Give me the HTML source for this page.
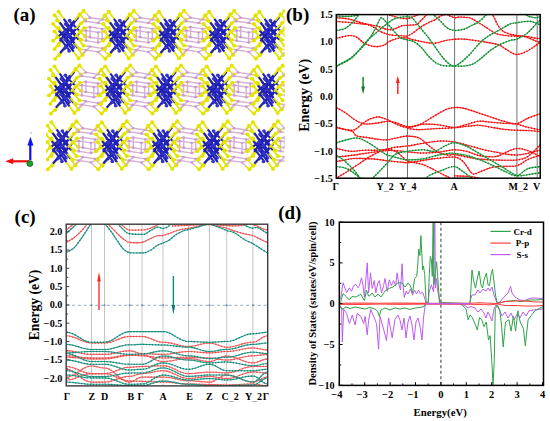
<!DOCTYPE html>
<html><head><meta charset="utf-8"><style>
html,body{margin:0;padding:0;background:#fff;width:550px;height:421px;overflow:hidden}
svg{display:block}
</style></head><body>
<svg width="550" height="421" viewBox="0 0 550 421">
<rect width="550" height="421" fill="#fff"/>
<defs>
<clipPath id="cb"><rect x="336.3" y="14.6" width="203.9" height="163.6"/></clipPath>
<clipPath id="cc"><rect x="66.2" y="224.2" width="201.5" height="161.7"/></clipPath>
<clipPath id="cd"><rect x="339.3" y="222.2" width="204.2" height="163.2"/></clipPath>
<g id="u"><g transform="scale(1,0.93)">
<path fill="none" stroke="#d8b0d8" stroke-width="1.5" d="M15.8,-20.8 L19.0,-17.0 M16.5,-16.0 L19.0,-17.0 M16.0,-6.5 L19.0,-7.0 M16.5,3.5 L19.0,4.0 M15.8,13.5 L19.0,14.0 M15.2,18.5 L19.0,14.0 M34.4,-19.2 L31.0,-15.0 M33.6,-14.5 L31.0,-15.0 M34.4,-5.5 L31.0,-5.0 M33.6,5.0 L31.0,6.0 M34.4,14.5 L31.0,16.0 M34.6,19.8 L31.0,16.0 M19.0,-17.0 L31.0,-15.0 M19.0,-7.0 L31.0,-5.0 M19.0,4.0 L31.0,6.0 M19.0,14.0 L31.0,16.0 M19,-7 L19,4 M31,-5 L31,6"/>
<path fill="none" stroke="#e4e400" stroke-width="1.6" d="M12.5,-24.5 L15.8,-20.8 M14.0,-15.0 L16.5,-16.0 M13.0,-6.0 L16.0,-6.5 M14.0,3.0 L16.5,3.5 M12.5,13.0 L15.8,13.5 M11.5,23.0 L15.2,18.5 M37.8,-23.5 L34.4,-19.2 M36.3,-14.0 L33.6,-14.5 M37.8,-6.0 L34.4,-5.5 M36.3,4.0 L33.6,5.0 M37.8,13.0 L34.4,14.5 M38.3,23.5 L34.6,19.8"/>
<path fill="none" stroke="#e4e400" stroke-width="1.9" d="M-12.5,-23.5 L-7.3,-15.8 M-14.0,-14.0 L-8.2,-6.8 M-12.5,-6.0 L-7.3,1.2 M-14.0,4.0 L-8.2,-1.0 M-12.5,13.0 L-7.3,4.7 M-12.0,23.5 L-7.0,17.2 M12.5,-24.5 L7.3,-17.5 M14.0,-15.0 L8.2,-8.5 M13.0,-6.0 L7.8,0.1 M14.0,3.0 L8.4,-2.8 M12.5,13.0 L7.3,6.5 M11.5,23.0 L6.6,15.8"/>
<path fill="none" stroke="#2020b4" stroke-width="2.2" d="M-7.3,-15.8 L2.0,-2.0 M-8.2,-6.8 L2.0,6.0 M-7.3,1.2 L2.0,14.0 M-8.2,-1.0 L2.0,-10.0 M-7.3,4.7 L2.0,-10.0 M-7.0,17.2 L2.0,6.0 M7.3,-17.5 L-2.0,-5.0 M8.2,-8.5 L-2.0,3.0 M7.8,0.1 L-1.5,11.0 M8.4,-2.8 L-1.5,-13.0 M7.3,6.5 L-2.0,-5.0 M6.6,15.8 L-2.0,3.0"/>
<circle cx="-1.5" cy="-14.0" r="1.9" fill="#3434c8"/>
<circle cx="2.0" cy="-10.5" r="1.9" fill="#3434c8"/>
<circle cx="-2.0" cy="-5.5" r="1.9" fill="#3434c8"/>
<circle cx="2.0" cy="-2.0" r="1.9" fill="#3434c8"/>
<circle cx="-2.0" cy="3.0" r="1.9" fill="#3434c8"/>
<circle cx="2.0" cy="6.5" r="1.9" fill="#3434c8"/>
<circle cx="-1.5" cy="11.0" r="1.9" fill="#3434c8"/>
<circle cx="2.0" cy="15.0" r="1.9" fill="#3434c8"/>
<circle cx="-12.5" cy="-23.5" r="2" fill="#e4e400"/>
<circle cx="-14.0" cy="-14.0" r="2" fill="#e4e400"/>
<circle cx="-12.5" cy="-6.0" r="2" fill="#e4e400"/>
<circle cx="-14.0" cy="4.0" r="2" fill="#e4e400"/>
<circle cx="-12.5" cy="13.0" r="2" fill="#e4e400"/>
<circle cx="-12.0" cy="23.5" r="2" fill="#e4e400"/>
<circle cx="12.5" cy="-24.5" r="2" fill="#e4e400"/>
<circle cx="14.0" cy="-15.0" r="2" fill="#e4e400"/>
<circle cx="13.0" cy="-6.0" r="2" fill="#e4e400"/>
<circle cx="14.0" cy="3.0" r="2" fill="#e4e400"/>
<circle cx="12.5" cy="13.0" r="2" fill="#e4e400"/>
<circle cx="11.5" cy="23.0" r="2" fill="#e4e400"/>
<circle cx="19.0" cy="-17.0" r="1.3" fill="#c898c8"/>
<circle cx="19.0" cy="-7.0" r="1.3" fill="#c898c8"/>
<circle cx="19.0" cy="4.0" r="1.3" fill="#c898c8"/>
<circle cx="19.0" cy="14.0" r="1.3" fill="#c898c8"/>
<circle cx="31.0" cy="-15.0" r="1.3" fill="#c898c8"/>
<circle cx="31.0" cy="-5.0" r="1.3" fill="#c898c8"/>
<circle cx="31.0" cy="6.0" r="1.3" fill="#c898c8"/>
<circle cx="31.0" cy="16.0" r="1.3" fill="#c898c8"/>
</g></g>
</defs>
<g clip-path="url(#ca)">
<use href="#u" x="71.1" y="33.5"/>
<use href="#u" x="67.1" y="37.0"/>
<use href="#u" x="121.3" y="33.5"/>
<use href="#u" x="117.3" y="37.0"/>
<use href="#u" x="171.5" y="33.5"/>
<use href="#u" x="167.5" y="37.0"/>
<use href="#u" x="221.7" y="33.5"/>
<use href="#u" x="217.7" y="37.0"/>
<use href="#u" x="271.9" y="33.5"/>
<use href="#u" x="267.9" y="37.0"/>
<use href="#u" x="66.9" y="88.2"/>
<use href="#u" x="62.9" y="91.7"/>
<use href="#u" x="117.7" y="88.2"/>
<use href="#u" x="113.7" y="91.7"/>
<use href="#u" x="168.5" y="88.2"/>
<use href="#u" x="164.5" y="91.7"/>
<use href="#u" x="219.3" y="88.2"/>
<use href="#u" x="215.3" y="91.7"/>
<use href="#u" x="270.1" y="88.2"/>
<use href="#u" x="266.1" y="91.7"/>
<use href="#u" x="63.9" y="144.0"/>
<use href="#u" x="59.9" y="147.5"/>
<use href="#u" x="114.3" y="144.0"/>
<use href="#u" x="110.3" y="147.5"/>
<use href="#u" x="164.7" y="144.0"/>
<use href="#u" x="160.7" y="147.5"/>
<use href="#u" x="215.1" y="144.0"/>
<use href="#u" x="211.1" y="147.5"/>
<use href="#u" x="265.5" y="144.0"/>
<use href="#u" x="261.5" y="147.5"/>
</g>
<clipPath id="ca"><rect x="46" y="0" width="238.5" height="200"/></clipPath>
<line x1="30.3" y1="160" x2="30.3" y2="144" stroke="#1010ee" stroke-width="2.2"/><path d="M27.4,145.5 L33.4,145.5 L30.4,136.8 Z" fill="#1010ee"/>
<line x1="29" y1="161.3" x2="12" y2="161.3" stroke="#ee1010" stroke-width="2.2"/><path d="M13.2,158.3 L13.2,164.3 L5.2,161.2 Z" fill="#ee1010"/>
<circle cx="29.8" cy="163.6" r="3" fill="#18a030" stroke="#0a4010" stroke-width="0.6"/>
<text x="30.2" y="134" font-size="4" fill="#777" font-family="Liberation Sans">c</text>
<line x1="387.5" y1="14.6" x2="387.5" y2="178.2" stroke="#707070" stroke-width="1"/>
<line x1="407.5" y1="14.6" x2="407.5" y2="178.2" stroke="#707070" stroke-width="1"/>
<line x1="454.6" y1="14.6" x2="454.6" y2="178.2" stroke="#707070" stroke-width="1"/>
<line x1="516.9" y1="14.6" x2="516.9" y2="178.2" stroke="#707070" stroke-width="1"/>
<line x1="537.2" y1="14.6" x2="537.2" y2="178.2" stroke="#707070" stroke-width="1"/>
<g clip-path="url(#cb)" fill="none"><g stroke="#ff3838" stroke-width="1.1"><path d="M336.5,38.4 C338.6,37.9 346.0,35.7 349.3,35.5 C352.6,35.3 354.0,35.8 356.4,37.0 C358.8,38.2 361.1,41.2 363.5,42.7 C365.9,44.2 368.2,45.1 370.6,45.8 C373.0,46.4 375.4,46.8 377.8,46.6 C380.2,46.4 383.3,45.5 384.9,44.8 C386.5,44.1 386.1,43.3 387.6,42.4 C389.1,41.5 391.7,40.4 393.8,39.6 C395.9,38.8 398.1,38.0 400.4,37.7 C402.7,37.5 405.3,37.8 407.4,38.1 C409.5,38.4 410.5,39.0 412.8,39.6 C415.1,40.2 418.8,41.0 421.4,41.5 C424.0,42.0 426.1,42.6 428.5,42.9 C430.9,43.2 433.2,43.4 435.6,43.1 C438.0,42.8 440.4,41.8 442.8,41.2 C445.2,40.7 447.5,40.1 449.9,39.8 C452.3,39.4 454.6,39.2 457.0,39.1 C459.4,39.0 462.0,39.0 464.2,39.1 C466.4,39.2 466.6,39.3 470.0,39.8 C473.4,40.3 479.6,41.1 484.3,41.9 C489.1,42.7 494.9,43.6 498.5,44.8 C502.1,46.0 503.2,47.7 505.6,49.1 C508.0,50.5 510.9,52.4 512.8,53.3 C514.7,54.2 514.9,54.6 516.8,54.5 C518.7,54.4 521.6,53.8 524.2,52.6 C526.9,51.5 529.9,49.5 532.7,47.6 C535.5,45.8 539.6,42.5 541.0,41.5"/><path d="M336.5,17.7 C338.6,17.9 344.8,18.2 349.3,19.1 C353.8,20.1 358.8,22.2 363.5,23.4 C368.2,24.6 373.6,25.3 377.6,26.3 C381.6,27.3 384.9,29.1 387.6,29.6 C390.3,30.1 391.7,29.7 393.8,29.1 C395.9,28.6 398.7,26.9 400.4,26.3 C402.1,25.7 402.2,25.7 404.0,25.5 C405.8,25.3 409.1,25.3 411.3,25.1 C413.5,24.9 415.5,25.0 417.1,24.2 C418.7,23.4 419.6,21.9 421.0,20.5 C422.4,19.1 424.6,16.9 425.8,15.6 C427.0,14.3 427.6,13.0 428.0,12.5"/><path d="M336.5,21.5 C338.8,21.7 345.8,22.1 350.0,22.5 C354.2,22.9 358.7,23.5 362.0,24.0 C365.3,24.5 367.1,24.1 370.0,25.3 C372.9,26.5 376.6,29.5 379.5,31.0 C382.4,32.5 385.2,33.6 387.6,34.3 C390.0,35.0 391.4,35.0 393.8,35.3 C396.2,35.5 399.7,35.7 402.0,35.8 C404.3,35.9 405.8,36.5 407.6,36.0 C409.4,35.5 410.4,34.7 412.7,33.1 C415.0,31.5 418.9,28.2 421.5,26.5 C424.1,24.8 425.8,24.0 428.0,22.9 C430.2,21.8 432.2,21.2 434.5,20.0 C436.8,18.8 439.7,16.5 441.8,15.6 C443.9,14.7 445.6,14.4 447.0,14.5 C448.4,14.6 448.7,15.5 450.0,16.0 C451.3,16.5 452.9,17.5 454.6,17.7 C456.3,17.9 458.1,17.0 460.0,17.0 C461.9,17.0 464.1,17.3 466.0,17.5 C467.9,17.7 468.2,16.9 471.3,18.4 C474.4,19.9 480.2,23.8 484.3,26.3 C488.4,28.8 492.1,31.9 495.7,33.4 C499.2,34.9 502.1,35.0 505.6,35.5 C509.1,36.0 513.2,36.0 516.8,36.2 C520.4,36.4 523.7,36.1 527.0,36.5 C530.3,36.9 534.4,38.1 536.7,38.4 C539.0,38.7 540.3,38.5 541.0,38.5"/><path d="M389.0,14.9 C390.6,15.4 395.4,17.1 398.5,17.7 C401.6,18.3 405.0,18.8 407.4,18.7 C409.8,18.6 411.1,17.4 412.8,16.8 C414.5,16.2 416.1,15.7 417.5,14.9 C418.9,14.1 420.4,12.5 421.0,12.0"/><path d="M490.0,11.0 C490.5,11.7 491.4,12.3 492.8,14.9 C494.2,17.4 496.6,23.4 498.5,26.3 C500.4,29.2 501.8,30.6 504.2,32.0 C506.6,33.4 510.7,34.2 512.8,34.8 C514.9,35.4 514.6,35.1 516.8,35.5 C519.0,35.9 522.7,36.0 526.0,37.0 C529.3,38.0 534.2,40.4 536.7,41.2 C539.2,42.0 540.3,41.9 541.0,42.0"/><path d="M336.5,107.6 C338.1,108.5 342.9,111.1 345.9,113.1 C348.9,115.1 351.9,117.9 354.6,119.6 C357.3,121.3 360.1,122.8 362.3,123.5 C364.5,124.2 365.0,124.1 367.7,124.0 C370.4,123.9 375.3,123.4 378.6,122.9 C381.9,122.5 384.4,121.3 387.4,121.3 C390.4,121.3 393.1,121.9 396.4,122.8 C399.7,123.7 403.6,126.3 407.4,126.6 C411.2,126.9 415.0,126.3 419.2,124.7 C423.4,123.1 428.1,119.6 432.5,117.1 C436.9,114.6 442.2,111.1 445.8,109.5 C449.4,107.9 451.9,107.9 454.3,107.6 C456.7,107.3 457.9,107.3 460.0,107.6 C462.1,107.8 463.9,108.2 467.1,109.1 C470.3,110.0 475.2,111.8 479.2,113.2 C483.2,114.6 487.2,115.9 491.3,117.2 C495.4,118.5 499.3,120.1 503.5,121.2 C507.7,122.3 512.6,124.2 516.6,123.7 C520.6,123.2 523.6,119.9 527.7,118.2 C531.8,116.5 538.8,114.3 541.0,113.5"/><path d="M336.5,127.3 C338.1,127.7 343.2,129.0 345.9,129.5 C348.6,130.0 350.7,130.5 352.5,130.3 C354.3,130.1 355.0,129.6 356.8,128.4 C358.6,127.2 361.2,124.5 363.4,122.9 C365.6,121.4 367.5,120.1 369.9,119.1 C372.2,118.1 375.3,117.1 377.5,116.9 C379.7,116.7 381.4,117.5 383.0,118.0 C384.6,118.5 385.4,118.7 387.4,119.6 C389.4,120.5 391.7,122.2 395.0,123.5 C398.3,124.8 402.7,127.4 407.4,127.5 C412.1,127.6 417.9,124.8 423.0,124.3 C428.1,123.8 433.0,124.2 438.2,124.7 C443.4,125.2 449.5,127.6 454.3,127.5 C459.1,127.4 463.0,125.3 467.1,124.3 C471.2,123.2 475.2,121.5 479.2,121.2 C483.2,120.9 487.2,122.0 491.3,122.3 C495.4,122.6 499.3,123.0 503.5,123.3 C507.7,123.6 512.6,123.3 516.6,124.0 C520.6,124.7 523.6,126.3 527.7,127.3 C531.8,128.3 538.8,129.6 541.0,130.0"/><path d="M336.5,127.6 C338.1,128.0 343.2,129.2 345.9,129.8 C348.6,130.5 350.7,130.5 352.5,131.5 C354.3,132.5 354.3,135.0 356.8,136.0 C359.3,137.0 364.1,137.0 367.7,137.6 C371.3,138.2 375.3,138.9 378.6,139.3 C381.9,139.7 384.4,140.0 387.4,139.8 C390.4,139.6 393.1,138.6 396.4,138.0 C399.7,137.4 403.6,136.1 407.4,136.1 C411.2,136.1 415.6,136.4 419.2,138.0 C422.8,139.6 425.5,143.2 428.7,145.6 C431.9,148.0 435.0,150.6 438.2,152.2 C441.4,153.8 444.9,154.7 447.7,155.1 C450.5,155.5 450.4,154.0 455.0,154.6 C459.6,155.2 468.5,157.7 475.2,158.6 C481.9,159.5 488.5,159.8 495.4,160.0 C502.3,160.2 511.2,160.6 516.6,160.0 C522.0,159.4 523.6,159.3 527.7,156.6 C531.8,153.9 538.8,146.1 541.0,144.0"/><path d="M336.5,148.4 C338.8,148.9 345.7,151.0 350.2,151.3 C354.7,151.6 359.1,150.5 363.5,150.3 C367.9,150.1 372.8,150.5 376.8,150.3 C380.8,150.2 384.2,149.1 387.6,149.4 C391.0,149.7 393.7,150.1 397.0,152.0 C400.3,153.9 403.1,158.7 407.4,160.8 C411.7,162.9 417.2,162.4 423.0,164.6 C428.8,166.8 437.6,171.8 442.0,174.0 C446.4,176.2 447.9,176.6 449.6,177.8 C451.3,179.0 451.6,180.5 452.0,181.0"/><path d="M336.5,157.0 C339.4,156.7 347.9,155.9 354.0,155.1 C360.1,154.3 367.4,153.0 373.0,152.2 C378.6,151.4 383.1,150.7 387.6,150.5 C392.1,150.3 394.6,150.6 400.0,151.0 C405.4,151.4 413.3,152.8 420.0,153.0 C426.7,153.2 434.3,152.6 440.0,152.0 C445.7,151.4 449.8,149.8 454.3,149.7 C458.8,149.6 463.0,150.5 467.1,151.5 C471.2,152.5 474.5,154.8 479.2,155.6 C483.9,156.4 491.0,157.1 495.4,156.6 C499.8,156.1 502.0,153.8 505.5,152.5 C509.0,151.2 512.9,148.8 516.6,148.5 C520.3,148.2 523.6,149.1 527.7,150.5 C531.8,151.9 538.8,155.9 541.0,157.0"/><path d="M334.0,181.0 C334.5,180.5 334.8,179.3 336.9,177.8 C339.0,176.3 342.9,174.3 346.4,172.1 C349.9,169.9 354.0,167.1 357.8,164.6 C361.6,162.1 365.4,159.2 369.2,157.0 C373.0,154.8 377.5,152.6 380.6,151.3 C383.7,150.0 384.9,149.7 387.6,149.0 C390.3,148.3 393.7,147.5 397.0,147.0 C400.3,146.5 402.7,146.7 407.4,146.0 C412.1,145.3 419.6,143.8 425.0,143.0 C430.4,142.2 435.1,141.2 440.0,141.0 C444.9,140.8 449.3,141.2 454.3,142.0 C459.3,142.8 464.1,144.5 470.0,146.0 C475.9,147.5 482.2,149.5 490.0,151.0 C497.8,152.5 508.1,155.2 516.6,155.0 C525.1,154.8 536.9,150.8 541.0,150.0"/><path d="M336.5,161.5 C337.9,161.2 342.1,160.5 345.0,160.0 C347.9,159.5 349.3,158.7 354.0,158.5 C358.7,158.3 367.4,158.5 373.0,158.9 C378.6,159.3 383.5,160.3 387.6,160.8 C391.7,161.3 394.4,161.4 397.7,161.7 C401.0,162.0 403.8,162.8 407.5,162.7 C411.2,162.6 415.8,161.6 420.0,161.0 C424.2,160.4 426.8,159.6 432.5,158.9 C438.2,158.2 449.2,156.6 454.3,157.0 C459.4,157.4 460.3,159.0 463.1,161.6 C465.9,164.2 469.2,170.7 471.2,172.7 C473.2,174.7 472.8,174.2 475.2,173.7 C477.6,173.2 481.9,170.9 485.3,169.7 C488.7,168.5 490.2,167.4 495.4,166.7 C500.6,166.0 511.2,166.9 516.6,165.7 C522.0,164.5 523.6,161.4 527.7,159.6 C531.8,157.8 538.8,155.8 541.0,155.0"/><path d="M454.0,175.8 C456.7,175.9 465.7,176.1 470.0,176.5 C474.3,176.9 478.3,178.2 480.0,178.5"/><path d="M407.4,128.5 C408.7,128.7 412.4,129.3 415.0,129.5 C417.6,129.7 419.1,129.7 423.0,129.5 C426.9,129.3 433.0,128.8 438.2,128.5 C443.4,128.2 449.5,128.2 454.3,127.8 C459.1,127.4 463.0,126.7 467.1,126.3 C471.2,125.9 475.2,125.1 479.2,125.3 C483.2,125.5 487.2,126.6 491.3,127.3 C495.4,128.0 499.3,128.8 503.5,129.3 C507.7,129.8 512.6,130.1 516.6,130.3 C520.6,130.5 523.6,130.3 527.7,130.5 C531.8,130.7 538.8,131.5 541.0,131.7"/></g><g stroke="#e80000" stroke-width="1.5" stroke-dasharray="1 1.9"><path d="M336.5,38.4 C338.6,37.9 346.0,35.7 349.3,35.5 C352.6,35.3 354.0,35.8 356.4,37.0 C358.8,38.2 361.1,41.2 363.5,42.7 C365.9,44.2 368.2,45.1 370.6,45.8 C373.0,46.4 375.4,46.8 377.8,46.6 C380.2,46.4 383.3,45.5 384.9,44.8 C386.5,44.1 386.1,43.3 387.6,42.4 C389.1,41.5 391.7,40.4 393.8,39.6 C395.9,38.8 398.1,38.0 400.4,37.7 C402.7,37.5 405.3,37.8 407.4,38.1 C409.5,38.4 410.5,39.0 412.8,39.6 C415.1,40.2 418.8,41.0 421.4,41.5 C424.0,42.0 426.1,42.6 428.5,42.9 C430.9,43.2 433.2,43.4 435.6,43.1 C438.0,42.8 440.4,41.8 442.8,41.2 C445.2,40.7 447.5,40.1 449.9,39.8 C452.3,39.4 454.6,39.2 457.0,39.1 C459.4,39.0 462.0,39.0 464.2,39.1 C466.4,39.2 466.6,39.3 470.0,39.8 C473.4,40.3 479.6,41.1 484.3,41.9 C489.1,42.7 494.9,43.6 498.5,44.8 C502.1,46.0 503.2,47.7 505.6,49.1 C508.0,50.5 510.9,52.4 512.8,53.3 C514.7,54.2 514.9,54.6 516.8,54.5 C518.7,54.4 521.6,53.8 524.2,52.6 C526.9,51.5 529.9,49.5 532.7,47.6 C535.5,45.8 539.6,42.5 541.0,41.5"/><path d="M336.5,17.7 C338.6,17.9 344.8,18.2 349.3,19.1 C353.8,20.1 358.8,22.2 363.5,23.4 C368.2,24.6 373.6,25.3 377.6,26.3 C381.6,27.3 384.9,29.1 387.6,29.6 C390.3,30.1 391.7,29.7 393.8,29.1 C395.9,28.6 398.7,26.9 400.4,26.3 C402.1,25.7 402.2,25.7 404.0,25.5 C405.8,25.3 409.1,25.3 411.3,25.1 C413.5,24.9 415.5,25.0 417.1,24.2 C418.7,23.4 419.6,21.9 421.0,20.5 C422.4,19.1 424.6,16.9 425.8,15.6 C427.0,14.3 427.6,13.0 428.0,12.5"/><path d="M336.5,21.5 C338.8,21.7 345.8,22.1 350.0,22.5 C354.2,22.9 358.7,23.5 362.0,24.0 C365.3,24.5 367.1,24.1 370.0,25.3 C372.9,26.5 376.6,29.5 379.5,31.0 C382.4,32.5 385.2,33.6 387.6,34.3 C390.0,35.0 391.4,35.0 393.8,35.3 C396.2,35.5 399.7,35.7 402.0,35.8 C404.3,35.9 405.8,36.5 407.6,36.0 C409.4,35.5 410.4,34.7 412.7,33.1 C415.0,31.5 418.9,28.2 421.5,26.5 C424.1,24.8 425.8,24.0 428.0,22.9 C430.2,21.8 432.2,21.2 434.5,20.0 C436.8,18.8 439.7,16.5 441.8,15.6 C443.9,14.7 445.6,14.4 447.0,14.5 C448.4,14.6 448.7,15.5 450.0,16.0 C451.3,16.5 452.9,17.5 454.6,17.7 C456.3,17.9 458.1,17.0 460.0,17.0 C461.9,17.0 464.1,17.3 466.0,17.5 C467.9,17.7 468.2,16.9 471.3,18.4 C474.4,19.9 480.2,23.8 484.3,26.3 C488.4,28.8 492.1,31.9 495.7,33.4 C499.2,34.9 502.1,35.0 505.6,35.5 C509.1,36.0 513.2,36.0 516.8,36.2 C520.4,36.4 523.7,36.1 527.0,36.5 C530.3,36.9 534.4,38.1 536.7,38.4 C539.0,38.7 540.3,38.5 541.0,38.5"/><path d="M389.0,14.9 C390.6,15.4 395.4,17.1 398.5,17.7 C401.6,18.3 405.0,18.8 407.4,18.7 C409.8,18.6 411.1,17.4 412.8,16.8 C414.5,16.2 416.1,15.7 417.5,14.9 C418.9,14.1 420.4,12.5 421.0,12.0"/><path d="M490.0,11.0 C490.5,11.7 491.4,12.3 492.8,14.9 C494.2,17.4 496.6,23.4 498.5,26.3 C500.4,29.2 501.8,30.6 504.2,32.0 C506.6,33.4 510.7,34.2 512.8,34.8 C514.9,35.4 514.6,35.1 516.8,35.5 C519.0,35.9 522.7,36.0 526.0,37.0 C529.3,38.0 534.2,40.4 536.7,41.2 C539.2,42.0 540.3,41.9 541.0,42.0"/><path d="M336.5,107.6 C338.1,108.5 342.9,111.1 345.9,113.1 C348.9,115.1 351.9,117.9 354.6,119.6 C357.3,121.3 360.1,122.8 362.3,123.5 C364.5,124.2 365.0,124.1 367.7,124.0 C370.4,123.9 375.3,123.4 378.6,122.9 C381.9,122.5 384.4,121.3 387.4,121.3 C390.4,121.3 393.1,121.9 396.4,122.8 C399.7,123.7 403.6,126.3 407.4,126.6 C411.2,126.9 415.0,126.3 419.2,124.7 C423.4,123.1 428.1,119.6 432.5,117.1 C436.9,114.6 442.2,111.1 445.8,109.5 C449.4,107.9 451.9,107.9 454.3,107.6 C456.7,107.3 457.9,107.3 460.0,107.6 C462.1,107.8 463.9,108.2 467.1,109.1 C470.3,110.0 475.2,111.8 479.2,113.2 C483.2,114.6 487.2,115.9 491.3,117.2 C495.4,118.5 499.3,120.1 503.5,121.2 C507.7,122.3 512.6,124.2 516.6,123.7 C520.6,123.2 523.6,119.9 527.7,118.2 C531.8,116.5 538.8,114.3 541.0,113.5"/><path d="M336.5,127.3 C338.1,127.7 343.2,129.0 345.9,129.5 C348.6,130.0 350.7,130.5 352.5,130.3 C354.3,130.1 355.0,129.6 356.8,128.4 C358.6,127.2 361.2,124.5 363.4,122.9 C365.6,121.4 367.5,120.1 369.9,119.1 C372.2,118.1 375.3,117.1 377.5,116.9 C379.7,116.7 381.4,117.5 383.0,118.0 C384.6,118.5 385.4,118.7 387.4,119.6 C389.4,120.5 391.7,122.2 395.0,123.5 C398.3,124.8 402.7,127.4 407.4,127.5 C412.1,127.6 417.9,124.8 423.0,124.3 C428.1,123.8 433.0,124.2 438.2,124.7 C443.4,125.2 449.5,127.6 454.3,127.5 C459.1,127.4 463.0,125.3 467.1,124.3 C471.2,123.2 475.2,121.5 479.2,121.2 C483.2,120.9 487.2,122.0 491.3,122.3 C495.4,122.6 499.3,123.0 503.5,123.3 C507.7,123.6 512.6,123.3 516.6,124.0 C520.6,124.7 523.6,126.3 527.7,127.3 C531.8,128.3 538.8,129.6 541.0,130.0"/><path d="M336.5,127.6 C338.1,128.0 343.2,129.2 345.9,129.8 C348.6,130.5 350.7,130.5 352.5,131.5 C354.3,132.5 354.3,135.0 356.8,136.0 C359.3,137.0 364.1,137.0 367.7,137.6 C371.3,138.2 375.3,138.9 378.6,139.3 C381.9,139.7 384.4,140.0 387.4,139.8 C390.4,139.6 393.1,138.6 396.4,138.0 C399.7,137.4 403.6,136.1 407.4,136.1 C411.2,136.1 415.6,136.4 419.2,138.0 C422.8,139.6 425.5,143.2 428.7,145.6 C431.9,148.0 435.0,150.6 438.2,152.2 C441.4,153.8 444.9,154.7 447.7,155.1 C450.5,155.5 450.4,154.0 455.0,154.6 C459.6,155.2 468.5,157.7 475.2,158.6 C481.9,159.5 488.5,159.8 495.4,160.0 C502.3,160.2 511.2,160.6 516.6,160.0 C522.0,159.4 523.6,159.3 527.7,156.6 C531.8,153.9 538.8,146.1 541.0,144.0"/><path d="M336.5,148.4 C338.8,148.9 345.7,151.0 350.2,151.3 C354.7,151.6 359.1,150.5 363.5,150.3 C367.9,150.1 372.8,150.5 376.8,150.3 C380.8,150.2 384.2,149.1 387.6,149.4 C391.0,149.7 393.7,150.1 397.0,152.0 C400.3,153.9 403.1,158.7 407.4,160.8 C411.7,162.9 417.2,162.4 423.0,164.6 C428.8,166.8 437.6,171.8 442.0,174.0 C446.4,176.2 447.9,176.6 449.6,177.8 C451.3,179.0 451.6,180.5 452.0,181.0"/><path d="M336.5,157.0 C339.4,156.7 347.9,155.9 354.0,155.1 C360.1,154.3 367.4,153.0 373.0,152.2 C378.6,151.4 383.1,150.7 387.6,150.5 C392.1,150.3 394.6,150.6 400.0,151.0 C405.4,151.4 413.3,152.8 420.0,153.0 C426.7,153.2 434.3,152.6 440.0,152.0 C445.7,151.4 449.8,149.8 454.3,149.7 C458.8,149.6 463.0,150.5 467.1,151.5 C471.2,152.5 474.5,154.8 479.2,155.6 C483.9,156.4 491.0,157.1 495.4,156.6 C499.8,156.1 502.0,153.8 505.5,152.5 C509.0,151.2 512.9,148.8 516.6,148.5 C520.3,148.2 523.6,149.1 527.7,150.5 C531.8,151.9 538.8,155.9 541.0,157.0"/><path d="M334.0,181.0 C334.5,180.5 334.8,179.3 336.9,177.8 C339.0,176.3 342.9,174.3 346.4,172.1 C349.9,169.9 354.0,167.1 357.8,164.6 C361.6,162.1 365.4,159.2 369.2,157.0 C373.0,154.8 377.5,152.6 380.6,151.3 C383.7,150.0 384.9,149.7 387.6,149.0 C390.3,148.3 393.7,147.5 397.0,147.0 C400.3,146.5 402.7,146.7 407.4,146.0 C412.1,145.3 419.6,143.8 425.0,143.0 C430.4,142.2 435.1,141.2 440.0,141.0 C444.9,140.8 449.3,141.2 454.3,142.0 C459.3,142.8 464.1,144.5 470.0,146.0 C475.9,147.5 482.2,149.5 490.0,151.0 C497.8,152.5 508.1,155.2 516.6,155.0 C525.1,154.8 536.9,150.8 541.0,150.0"/><path d="M336.5,161.5 C337.9,161.2 342.1,160.5 345.0,160.0 C347.9,159.5 349.3,158.7 354.0,158.5 C358.7,158.3 367.4,158.5 373.0,158.9 C378.6,159.3 383.5,160.3 387.6,160.8 C391.7,161.3 394.4,161.4 397.7,161.7 C401.0,162.0 403.8,162.8 407.5,162.7 C411.2,162.6 415.8,161.6 420.0,161.0 C424.2,160.4 426.8,159.6 432.5,158.9 C438.2,158.2 449.2,156.6 454.3,157.0 C459.4,157.4 460.3,159.0 463.1,161.6 C465.9,164.2 469.2,170.7 471.2,172.7 C473.2,174.7 472.8,174.2 475.2,173.7 C477.6,173.2 481.9,170.9 485.3,169.7 C488.7,168.5 490.2,167.4 495.4,166.7 C500.6,166.0 511.2,166.9 516.6,165.7 C522.0,164.5 523.6,161.4 527.7,159.6 C531.8,157.8 538.8,155.8 541.0,155.0"/><path d="M454.0,175.8 C456.7,175.9 465.7,176.1 470.0,176.5 C474.3,176.9 478.3,178.2 480.0,178.5"/><path d="M407.4,128.5 C408.7,128.7 412.4,129.3 415.0,129.5 C417.6,129.7 419.1,129.7 423.0,129.5 C426.9,129.3 433.0,128.8 438.2,128.5 C443.4,128.2 449.5,128.2 454.3,127.8 C459.1,127.4 463.0,126.7 467.1,126.3 C471.2,125.9 475.2,125.1 479.2,125.3 C483.2,125.5 487.2,126.6 491.3,127.3 C495.4,128.0 499.3,128.8 503.5,129.3 C507.7,129.8 512.6,130.1 516.6,130.3 C520.6,130.5 523.6,130.3 527.7,130.5 C531.8,130.7 538.8,131.5 541.0,131.7"/></g></g>
<g clip-path="url(#cb)" fill="none"><g stroke="#34ae52" stroke-width="1.1"><path d="M336.5,65.9 C338.6,64.8 346.0,61.1 349.3,59.0 C352.6,56.9 354.0,55.2 356.4,53.0 C358.8,50.8 361.2,48.6 363.5,46.0 C365.8,43.4 368.1,40.2 370.0,37.5 C371.9,34.8 373.4,32.3 374.8,29.7 C376.2,27.1 377.4,24.0 378.5,22.0 C379.6,20.0 380.1,17.5 381.6,17.8 C383.1,18.1 385.6,21.7 387.6,23.9 C389.6,26.1 391.7,28.7 393.8,31.0 C395.9,33.3 398.1,36.2 400.4,37.7 C402.7,39.2 405.2,39.4 407.4,40.0 C409.6,40.6 411.4,40.2 413.7,41.5 C416.0,42.8 418.9,45.1 421.4,47.6 C423.9,50.1 426.1,53.7 428.5,56.2 C430.9,58.7 433.2,61.1 435.6,62.6 C438.0,64.2 439.6,64.9 442.8,65.5 C446.0,66.1 450.9,65.9 454.6,66.0 C458.3,66.1 461.9,66.3 465.0,66.0 C468.1,65.7 470.7,65.0 473.0,64.0 C475.3,63.0 477.0,61.5 479.0,60.0 C481.0,58.5 483.0,56.7 485.0,55.0 C487.0,53.3 488.7,51.7 491.0,50.0 C493.3,48.3 495.9,46.6 499.0,45.0 C502.1,43.4 506.9,41.5 509.9,40.5 C512.9,39.5 513.9,40.3 516.8,39.1 C519.6,37.9 523.7,36.0 527.0,33.4 C530.3,30.8 534.4,25.7 536.7,23.4 C539.0,21.1 540.3,20.1 541.0,19.5"/><path d="M336.5,66.3 C338.6,65.2 346.0,61.8 349.3,59.6 C352.6,57.5 354.3,55.6 356.4,53.4 C358.5,51.2 360.2,48.7 362.1,46.4 C364.0,44.1 365.9,41.9 368.0,39.8 C370.1,37.7 372.6,35.8 374.8,33.9 C377.0,32.0 378.9,30.2 381.0,28.5 C383.1,26.8 385.5,25.0 387.6,23.4 C389.7,21.8 391.7,20.1 393.8,19.1 C395.9,18.1 398.1,17.6 400.4,17.2 C402.7,16.8 405.5,16.7 407.4,16.8 C409.3,16.9 410.5,17.0 411.8,17.7 C413.1,18.4 413.4,19.1 415.0,21.0 C416.6,22.9 419.1,26.3 421.4,29.1 C423.6,31.9 426.1,34.6 428.5,37.7 C430.9,40.8 433.2,44.3 435.6,47.6 C438.0,50.9 440.4,54.8 442.8,57.6 C445.2,60.4 447.9,63.1 449.9,64.5 C451.9,65.9 452.9,66.3 454.6,66.1 C456.3,65.8 458.3,64.2 460.0,63.0 C461.7,61.8 463.2,60.7 465.0,59.0 C466.8,57.3 469.0,55.2 471.0,53.0 C473.0,50.8 475.0,48.2 477.0,46.0 C479.0,43.8 480.8,41.8 483.0,40.0 C485.2,38.2 487.4,36.6 490.0,35.0 C492.6,33.4 495.2,32.3 498.5,30.5 C501.8,28.7 506.8,25.4 509.9,24.1 C512.9,22.8 513.5,23.2 516.8,22.7 C520.1,22.2 526.6,21.2 529.9,21.3 C533.2,21.4 534.9,22.8 536.7,23.4 C538.6,24.0 540.3,24.7 541.0,25.0"/><path d="M336.5,30.5 C337.9,30.2 342.4,29.8 345.0,28.5 C347.6,27.2 350.0,24.9 352.0,23.0 C354.0,21.1 355.5,18.8 357.0,17.0 C358.5,15.2 360.3,12.8 361.0,12.0"/><path d="M336.5,16.2 C338.4,16.2 344.8,16.6 348.0,16.5 C351.2,16.4 353.7,16.1 356.0,15.5 C358.3,14.9 361.0,13.4 362.0,13.0"/><path d="M428.0,10.0 C428.8,10.7 430.8,12.3 432.8,14.1 C434.8,15.9 437.5,18.3 439.9,20.6 C442.3,22.9 444.6,26.1 447.0,27.7 C449.4,29.3 451.7,30.3 454.6,30.5 C457.5,30.7 461.6,29.8 464.2,29.1 C466.8,28.4 467.6,27.5 470.0,26.3 C472.4,25.1 476.1,23.7 478.6,22.0 C481.1,20.3 483.3,17.8 485.0,16.0 C486.7,14.2 488.3,11.8 489.0,11.0"/><path d="M522.0,11.0 C522.8,11.8 525.3,14.4 527.0,15.5 C528.7,16.6 530.4,16.9 532.0,17.3 C533.6,17.7 535.2,17.9 536.7,17.7 C538.2,17.5 540.3,16.3 541.0,16.0"/><path d="M336.5,142.7 C338.1,142.2 343.2,140.7 346.4,139.9 C349.6,139.1 353.0,138.0 355.9,138.0 C358.8,138.0 360.6,138.6 363.5,139.9 C366.4,141.2 369.8,143.6 373.0,145.6 C376.2,147.6 380.1,150.6 382.5,152.2 C384.9,153.8 385.1,154.1 387.6,155.1 C390.1,156.1 394.4,157.1 397.7,157.9 C401.0,158.7 403.3,159.6 407.5,159.8 C411.7,160.0 417.9,159.7 423.0,158.9 C428.1,158.1 433.8,156.1 438.2,155.1 C442.6,154.1 446.8,153.5 449.6,153.2 C452.4,152.9 452.1,153.1 455.0,153.5 C457.9,153.9 463.1,154.6 467.1,155.6 C471.1,156.6 475.2,158.1 479.2,159.6 C483.2,161.1 487.2,162.8 491.3,164.7 C495.4,166.5 499.3,168.8 503.5,170.7 C507.7,172.5 512.6,176.1 516.6,175.8 C520.6,175.5 523.6,170.2 527.7,168.7 C531.8,167.1 538.8,166.9 541.0,166.5"/><path d="M336.5,155.1 C337.8,156.1 341.6,158.3 344.5,160.8 C347.4,163.3 351.5,167.4 354.0,170.2 C356.5,173.0 358.2,175.8 359.7,177.8 C361.2,179.8 362.4,181.3 363.0,182.0"/><path d="M336.5,166.5 C338.1,166.8 343.5,167.3 346.4,168.4 C349.3,169.5 351.8,171.5 354.0,173.1 C356.2,174.7 358.2,176.5 359.7,177.8 C361.2,179.1 362.4,180.5 363.0,181.0"/><path d="M370.0,182.0 C370.5,181.3 371.2,179.8 373.0,177.8 C374.8,175.8 378.2,172.7 380.6,170.2 C383.0,167.7 385.1,165.4 387.6,162.7 C390.1,160.0 392.5,156.0 395.8,154.1 C399.1,152.2 403.0,152.0 407.5,151.3 C412.0,150.6 418.5,149.7 423.0,149.7 C427.5,149.7 430.6,152.0 434.4,151.3 C438.2,150.6 442.5,147.0 445.8,145.6 C449.1,144.2 450.8,142.5 454.3,142.7 C457.9,142.8 463.0,144.7 467.1,146.5 C471.2,148.3 475.2,151.2 479.2,153.5 C483.2,155.8 487.2,158.2 491.3,160.6 C495.4,163.0 499.3,165.2 503.5,167.7 C507.7,170.2 512.6,174.2 516.6,175.4 C520.6,176.6 523.6,175.2 527.7,174.7 C531.8,174.2 538.8,172.9 541.0,172.5"/><path d="M424.0,182.0 C424.8,181.0 425.7,177.9 428.7,175.9 C431.7,173.9 437.7,171.8 442.0,170.2 C446.3,168.6 450.8,166.2 454.3,166.5 C457.8,166.8 460.3,169.8 463.1,171.7 C465.9,173.6 469.4,176.1 471.2,177.8 C473.0,179.5 473.5,181.3 474.0,182.0"/></g><g stroke="#0e7a2a" stroke-width="1.5" stroke-dasharray="1 1.9"><path d="M336.5,65.9 C338.6,64.8 346.0,61.1 349.3,59.0 C352.6,56.9 354.0,55.2 356.4,53.0 C358.8,50.8 361.2,48.6 363.5,46.0 C365.8,43.4 368.1,40.2 370.0,37.5 C371.9,34.8 373.4,32.3 374.8,29.7 C376.2,27.1 377.4,24.0 378.5,22.0 C379.6,20.0 380.1,17.5 381.6,17.8 C383.1,18.1 385.6,21.7 387.6,23.9 C389.6,26.1 391.7,28.7 393.8,31.0 C395.9,33.3 398.1,36.2 400.4,37.7 C402.7,39.2 405.2,39.4 407.4,40.0 C409.6,40.6 411.4,40.2 413.7,41.5 C416.0,42.8 418.9,45.1 421.4,47.6 C423.9,50.1 426.1,53.7 428.5,56.2 C430.9,58.7 433.2,61.1 435.6,62.6 C438.0,64.2 439.6,64.9 442.8,65.5 C446.0,66.1 450.9,65.9 454.6,66.0 C458.3,66.1 461.9,66.3 465.0,66.0 C468.1,65.7 470.7,65.0 473.0,64.0 C475.3,63.0 477.0,61.5 479.0,60.0 C481.0,58.5 483.0,56.7 485.0,55.0 C487.0,53.3 488.7,51.7 491.0,50.0 C493.3,48.3 495.9,46.6 499.0,45.0 C502.1,43.4 506.9,41.5 509.9,40.5 C512.9,39.5 513.9,40.3 516.8,39.1 C519.6,37.9 523.7,36.0 527.0,33.4 C530.3,30.8 534.4,25.7 536.7,23.4 C539.0,21.1 540.3,20.1 541.0,19.5"/><path d="M336.5,66.3 C338.6,65.2 346.0,61.8 349.3,59.6 C352.6,57.5 354.3,55.6 356.4,53.4 C358.5,51.2 360.2,48.7 362.1,46.4 C364.0,44.1 365.9,41.9 368.0,39.8 C370.1,37.7 372.6,35.8 374.8,33.9 C377.0,32.0 378.9,30.2 381.0,28.5 C383.1,26.8 385.5,25.0 387.6,23.4 C389.7,21.8 391.7,20.1 393.8,19.1 C395.9,18.1 398.1,17.6 400.4,17.2 C402.7,16.8 405.5,16.7 407.4,16.8 C409.3,16.9 410.5,17.0 411.8,17.7 C413.1,18.4 413.4,19.1 415.0,21.0 C416.6,22.9 419.1,26.3 421.4,29.1 C423.6,31.9 426.1,34.6 428.5,37.7 C430.9,40.8 433.2,44.3 435.6,47.6 C438.0,50.9 440.4,54.8 442.8,57.6 C445.2,60.4 447.9,63.1 449.9,64.5 C451.9,65.9 452.9,66.3 454.6,66.1 C456.3,65.8 458.3,64.2 460.0,63.0 C461.7,61.8 463.2,60.7 465.0,59.0 C466.8,57.3 469.0,55.2 471.0,53.0 C473.0,50.8 475.0,48.2 477.0,46.0 C479.0,43.8 480.8,41.8 483.0,40.0 C485.2,38.2 487.4,36.6 490.0,35.0 C492.6,33.4 495.2,32.3 498.5,30.5 C501.8,28.7 506.8,25.4 509.9,24.1 C512.9,22.8 513.5,23.2 516.8,22.7 C520.1,22.2 526.6,21.2 529.9,21.3 C533.2,21.4 534.9,22.8 536.7,23.4 C538.6,24.0 540.3,24.7 541.0,25.0"/><path d="M336.5,30.5 C337.9,30.2 342.4,29.8 345.0,28.5 C347.6,27.2 350.0,24.9 352.0,23.0 C354.0,21.1 355.5,18.8 357.0,17.0 C358.5,15.2 360.3,12.8 361.0,12.0"/><path d="M336.5,16.2 C338.4,16.2 344.8,16.6 348.0,16.5 C351.2,16.4 353.7,16.1 356.0,15.5 C358.3,14.9 361.0,13.4 362.0,13.0"/><path d="M428.0,10.0 C428.8,10.7 430.8,12.3 432.8,14.1 C434.8,15.9 437.5,18.3 439.9,20.6 C442.3,22.9 444.6,26.1 447.0,27.7 C449.4,29.3 451.7,30.3 454.6,30.5 C457.5,30.7 461.6,29.8 464.2,29.1 C466.8,28.4 467.6,27.5 470.0,26.3 C472.4,25.1 476.1,23.7 478.6,22.0 C481.1,20.3 483.3,17.8 485.0,16.0 C486.7,14.2 488.3,11.8 489.0,11.0"/><path d="M522.0,11.0 C522.8,11.8 525.3,14.4 527.0,15.5 C528.7,16.6 530.4,16.9 532.0,17.3 C533.6,17.7 535.2,17.9 536.7,17.7 C538.2,17.5 540.3,16.3 541.0,16.0"/><path d="M336.5,142.7 C338.1,142.2 343.2,140.7 346.4,139.9 C349.6,139.1 353.0,138.0 355.9,138.0 C358.8,138.0 360.6,138.6 363.5,139.9 C366.4,141.2 369.8,143.6 373.0,145.6 C376.2,147.6 380.1,150.6 382.5,152.2 C384.9,153.8 385.1,154.1 387.6,155.1 C390.1,156.1 394.4,157.1 397.7,157.9 C401.0,158.7 403.3,159.6 407.5,159.8 C411.7,160.0 417.9,159.7 423.0,158.9 C428.1,158.1 433.8,156.1 438.2,155.1 C442.6,154.1 446.8,153.5 449.6,153.2 C452.4,152.9 452.1,153.1 455.0,153.5 C457.9,153.9 463.1,154.6 467.1,155.6 C471.1,156.6 475.2,158.1 479.2,159.6 C483.2,161.1 487.2,162.8 491.3,164.7 C495.4,166.5 499.3,168.8 503.5,170.7 C507.7,172.5 512.6,176.1 516.6,175.8 C520.6,175.5 523.6,170.2 527.7,168.7 C531.8,167.1 538.8,166.9 541.0,166.5"/><path d="M336.5,155.1 C337.8,156.1 341.6,158.3 344.5,160.8 C347.4,163.3 351.5,167.4 354.0,170.2 C356.5,173.0 358.2,175.8 359.7,177.8 C361.2,179.8 362.4,181.3 363.0,182.0"/><path d="M336.5,166.5 C338.1,166.8 343.5,167.3 346.4,168.4 C349.3,169.5 351.8,171.5 354.0,173.1 C356.2,174.7 358.2,176.5 359.7,177.8 C361.2,179.1 362.4,180.5 363.0,181.0"/><path d="M370.0,182.0 C370.5,181.3 371.2,179.8 373.0,177.8 C374.8,175.8 378.2,172.7 380.6,170.2 C383.0,167.7 385.1,165.4 387.6,162.7 C390.1,160.0 392.5,156.0 395.8,154.1 C399.1,152.2 403.0,152.0 407.5,151.3 C412.0,150.6 418.5,149.7 423.0,149.7 C427.5,149.7 430.6,152.0 434.4,151.3 C438.2,150.6 442.5,147.0 445.8,145.6 C449.1,144.2 450.8,142.5 454.3,142.7 C457.9,142.8 463.0,144.7 467.1,146.5 C471.2,148.3 475.2,151.2 479.2,153.5 C483.2,155.8 487.2,158.2 491.3,160.6 C495.4,163.0 499.3,165.2 503.5,167.7 C507.7,170.2 512.6,174.2 516.6,175.4 C520.6,176.6 523.6,175.2 527.7,174.7 C531.8,174.2 538.8,172.9 541.0,172.5"/><path d="M424.0,182.0 C424.8,181.0 425.7,177.9 428.7,175.9 C431.7,173.9 437.7,171.8 442.0,170.2 C446.3,168.6 450.8,166.2 454.3,166.5 C457.8,166.8 460.3,169.8 463.1,171.7 C465.9,173.6 469.4,176.1 471.2,177.8 C473.0,179.5 473.5,181.3 474.0,182.0"/></g></g>
<rect x="336.3" y="14.6" width="203.9" height="163.6" fill="none" stroke="#000" stroke-width="1.5"/>
<line x1="363.1" y1="77" x2="363.1" y2="88" stroke="#2a8a3a" stroke-width="1.6"/><path d="M361.2,86.5 L365,86.5 L363.1,94 Z" fill="#1c7a2c"/>
<line x1="397.8" y1="82" x2="397.8" y2="94" stroke="#ff3030" stroke-width="1.6"/><path d="M395.9,83 L399.7,83 L397.8,75.8 Z" fill="#ff2020"/>
<g font-family="Liberation Serif" font-weight="bold">
<text x="332.8" y="18.0" font-size="10.2" text-anchor="end" >1.5</text>
<text x="332.8" y="45.4" font-size="10.2" text-anchor="end" >1.0</text>
<text x="332.8" y="72.7" font-size="10.2" text-anchor="end" >0.5</text>
<text x="332.8" y="100.0" font-size="10.2" text-anchor="end" >0.0</text>
<text x="332.8" y="127.2" font-size="10.2" text-anchor="end" >−0.5</text>
<text x="332.8" y="154.6" font-size="10.2" text-anchor="end" >−1.0</text>
<text x="332.8" y="181.9" font-size="10.2" text-anchor="end" >−1.5</text>
<text x="0.0" y="0.0" font-size="14" text-anchor="middle" transform="translate(309.4,95.3) rotate(-90)" textLength="73" lengthAdjust="spacingAndGlyphs">Energy (eV)</text>
<text x="335.6" y="189.8" font-size="10" text-anchor="middle" >Γ</text>
<text x="385.2" y="189.8" font-size="10" text-anchor="middle" >Y<tspan fill="#9a9a9a">_</tspan>2</text>
<text x="407.8" y="189.8" font-size="10" text-anchor="middle" >Y<tspan fill="#9a9a9a">_</tspan>4</text>
<text x="454.0" y="189.8" font-size="10" text-anchor="middle" >A</text>
<text x="518.2" y="189.8" font-size="10" text-anchor="middle" >M<tspan fill="#9a9a9a">_</tspan>2</text>
<text x="536.6" y="189.8" font-size="10" text-anchor="middle" >V</text>
</g>
<line x1="91.5" y1="224.2" x2="91.5" y2="385.9" stroke="#c4c4c4" stroke-width="1"/>
<line x1="104.5" y1="224.2" x2="104.5" y2="385.9" stroke="#c4c4c4" stroke-width="1"/>
<line x1="129.6" y1="224.2" x2="129.6" y2="385.9" stroke="#c4c4c4" stroke-width="1"/>
<line x1="142.0" y1="224.2" x2="142.0" y2="385.9" stroke="#c4c4c4" stroke-width="1"/>
<line x1="163.0" y1="224.2" x2="163.0" y2="385.9" stroke="#c4c4c4" stroke-width="1"/>
<line x1="188.5" y1="224.2" x2="188.5" y2="385.9" stroke="#c4c4c4" stroke-width="1"/>
<line x1="209.5" y1="224.2" x2="209.5" y2="385.9" stroke="#c4c4c4" stroke-width="1"/>
<line x1="226.7" y1="224.2" x2="226.7" y2="385.9" stroke="#c4c4c4" stroke-width="1"/>
<line x1="252.9" y1="224.2" x2="252.9" y2="385.9" stroke="#c4c4c4" stroke-width="1"/>
<line x1="66.3" y1="305.3" x2="267.7" y2="305.3" stroke="#86a2bc" stroke-width="0.9" stroke-dasharray="3 2.8"/>
<circle cx="91.5" cy="305.3" r="1" fill="#6f8fb0"/>
<circle cx="104.5" cy="305.3" r="1" fill="#6f8fb0"/>
<circle cx="129.6" cy="305.3" r="1" fill="#6f8fb0"/>
<circle cx="142.0" cy="305.3" r="1" fill="#6f8fb0"/>
<circle cx="163.0" cy="305.3" r="1" fill="#6f8fb0"/>
<circle cx="188.5" cy="305.3" r="1" fill="#6f8fb0"/>
<circle cx="209.5" cy="305.3" r="1" fill="#6f8fb0"/>
<circle cx="226.7" cy="305.3" r="1" fill="#6f8fb0"/>
<circle cx="252.9" cy="305.3" r="1" fill="#6f8fb0"/>
<g clip-path="url(#cc)" fill="none">
<g stroke="#f46a6a" stroke-width="1.1"><path d="M66.3,242.4 C67.5,241.7 71.5,239.6 73.7,238.0 C75.9,236.4 77.5,234.8 79.5,232.9 C81.5,231.0 84.0,228.1 85.4,226.4 C86.8,224.8 87.0,223.9 88.0,223.0 C89.0,222.1 88.8,221.3 91.5,221.0 C94.2,220.7 101.7,220.3 104.5,221.0 C107.3,221.7 106.9,223.3 108.6,224.9 C110.3,226.5 112.5,228.8 114.5,230.7 C116.5,232.6 118.4,234.8 120.3,236.5 C122.2,238.2 124.5,239.9 126.1,240.9 C127.6,241.9 126.9,242.2 129.6,242.4 C132.2,242.7 138.3,243.1 142.0,242.4 C145.7,241.7 149.0,239.1 151.6,238.0 C154.2,236.9 155.6,236.2 157.5,235.8 C159.4,235.4 160.9,235.9 162.8,235.5 C164.7,235.1 166.8,234.4 169.1,233.6 C171.4,232.8 174.0,231.5 176.4,230.7 C178.8,229.9 181.2,229.5 183.6,229.0 C186.0,228.5 188.5,228.2 190.9,227.8 C193.3,227.4 196.0,226.9 198.2,226.4 C200.4,225.9 202.1,225.1 204.0,224.6 C205.9,224.1 207.8,223.3 209.5,223.5 C211.2,223.7 211.6,224.7 214.5,225.5 C217.4,226.3 223.4,227.3 226.7,228.2 C230.0,229.1 231.7,230.0 234.5,230.9 C237.3,231.8 240.6,232.8 243.6,233.6 C246.6,234.4 250.0,234.6 252.7,235.5 C255.4,236.4 257.5,237.9 260.0,239.1 C262.5,240.3 266.4,242.1 267.7,242.7"/><path d="M66.3,230.0 C66.9,229.5 68.8,228.0 70.0,227.0 C71.2,226.0 72.5,225.0 73.7,224.2 C74.9,223.4 76.0,222.6 77.0,222.0 C78.0,221.4 73.5,220.8 80.0,220.5 C86.5,220.2 109.5,220.2 116.0,220.5 C122.5,220.8 118.0,221.3 119.0,222.0 C120.0,222.7 120.5,223.8 121.7,224.9 C122.9,226.0 124.8,227.7 126.1,228.5 C127.4,229.3 126.9,229.8 129.6,230.0 C132.2,230.2 139.1,230.1 142.0,230.0 C144.9,229.9 145.2,229.9 147.3,229.3 C149.4,228.7 152.6,227.2 154.5,226.4 C156.4,225.6 157.7,224.8 158.9,224.2 C160.2,223.5 160.8,223.0 162.0,222.5 C163.2,222.0 152.0,221.2 166.0,221.0 C180.0,220.8 232.0,220.8 246.0,221.0 C260.0,221.2 248.9,221.9 250.0,222.5 C251.1,223.1 251.3,223.8 252.7,224.5 C254.1,225.2 256.4,225.6 258.2,226.4 C260.0,227.2 262.0,228.5 263.6,229.1 C265.2,229.7 267.0,229.8 267.7,230.0"/><path d="M172.0,226.0 C174.2,225.9 180.7,225.7 185.0,225.5 C189.3,225.3 193.5,225.0 198.0,224.8 C202.5,224.7 207.3,224.5 212.0,224.6 C216.7,224.7 221.7,225.3 226.0,225.5 C230.3,225.7 234.3,226.0 238.0,225.8 C241.7,225.6 246.3,224.7 248.0,224.5"/><path d="M66.3,335.8 L68.8,336.0 L71.3,336.5 L73.9,337.3 L76.4,338.3 L78.9,339.4 L81.4,340.5 L83.9,341.5 L86.5,342.3 L89.0,342.8 L91.5,343.0 L92.8,343.0 L94.1,343.0 L95.4,343.0 L96.7,343.0 L98.0,343.0 L99.3,343.0 L100.6,343.0 L101.9,343.0 L103.2,343.0 L104.5,343.0 L107.0,342.8 L109.5,342.4 L112.0,341.7 L114.5,340.8 L117.0,339.8 L119.6,338.7 L122.1,337.8 L124.6,337.1 L127.1,336.7 L129.6,336.5 L130.8,336.5 L132.1,336.5 L133.3,336.5 L134.6,336.5 L135.8,336.5 L137.0,336.5 L138.3,336.5 L139.5,336.5 L140.8,336.5 L142.0,336.5 L144.1,336.6 L146.2,337.0 L148.3,337.7 L150.4,338.5 L152.5,339.3 L154.6,340.2 L156.7,341.0 L158.8,341.7 L160.9,342.1 L163.0,342.2 L165.6,342.3 L168.1,342.6 L170.7,343.1 L173.2,343.7 L175.8,344.3 L178.3,345.0 L180.8,345.6 L183.4,346.1 L185.9,346.4 L188.5,346.5 L190.6,346.4 L192.7,346.2 L194.8,345.8 L196.9,345.3 L199.0,344.8 L201.1,344.2 L203.2,343.7 L205.3,343.3 L207.4,343.1 L209.5,343.0 L211.2,343.1 L212.9,343.4 L214.7,343.9 L216.4,344.5 L218.1,345.1 L219.8,345.7 L221.5,346.3 L223.3,346.8 L225.0,347.1 L226.7,347.2 L229.3,347.1 L231.9,346.7 L234.6,346.2 L237.2,345.5 L239.8,344.7 L242.4,343.9 L245.0,343.2 L247.7,342.7 L250.3,342.3 L252.9,342.2 L254.4,342.0 L255.9,341.6 L257.3,340.9 L258.8,340.0 L260.3,339.0 L261.8,338.0 L263.3,337.1 L264.7,336.4 L266.2,336.0 L267.7,335.8"/><path d="M66.3,350.8 L68.8,350.9 L71.3,351.1 L73.9,351.5 L76.4,352.0 L78.9,352.6 L81.4,353.2 L83.9,353.7 L86.5,354.1 L89.0,354.3 L91.5,354.4 L92.8,354.4 L94.1,354.4 L95.4,354.4 L96.7,354.4 L98.0,354.4 L99.3,354.4 L100.6,354.4 L101.9,354.4 L103.2,354.4 L104.5,354.4 L107.0,354.3 L109.5,354.1 L112.0,353.7 L114.5,353.2 L117.0,352.6 L119.6,352.0 L122.1,351.5 L124.6,351.1 L127.1,350.9 L129.6,350.8 L130.8,350.9 L132.1,351.1 L133.3,351.4 L134.6,351.8 L135.8,352.2 L137.0,352.6 L138.3,353.0 L139.5,353.3 L140.8,353.5 L142.0,353.6 L144.1,353.6 L146.2,353.7 L148.3,353.8 L150.4,353.9 L152.5,354.0 L154.6,354.1 L156.7,354.2 L158.8,354.3 L160.9,354.4 L163.0,354.4 L165.6,354.3 L168.1,354.1 L170.7,353.8 L173.2,353.4 L175.8,352.9 L178.3,352.5 L180.8,352.1 L183.4,351.8 L185.9,351.6 L188.5,351.5 L190.6,351.5 L192.7,351.6 L194.8,351.8 L196.9,352.0 L199.0,352.2 L201.1,352.4 L203.2,352.6 L205.3,352.8 L207.4,352.9 L209.5,352.9 L211.2,352.9 L212.9,352.8 L214.7,352.6 L216.4,352.4 L218.1,352.2 L219.8,352.0 L221.5,351.8 L223.3,351.6 L225.0,351.5 L226.7,351.5 L229.3,351.4 L231.9,351.2 L234.6,350.8 L237.2,350.3 L239.8,349.8 L242.4,349.2 L245.0,348.7 L247.7,348.3 L250.3,348.1 L252.9,348.0 L254.4,348.0 L255.9,348.2 L257.3,348.4 L258.8,348.7 L260.3,349.0 L261.8,349.3 L263.3,349.6 L264.7,349.8 L266.2,350.0 L267.7,350.0"/><path d="M66.3,355.8 L68.8,355.9 L71.3,356.0 L73.9,356.3 L76.4,356.6 L78.9,356.9 L81.4,357.2 L83.9,357.5 L86.5,357.8 L89.0,357.9 L91.5,358.0 L92.8,358.0 L94.1,358.0 L95.4,358.0 L96.7,358.0 L98.0,358.0 L99.3,358.0 L100.6,358.0 L101.9,358.0 L103.2,358.0 L104.5,358.0 L107.0,357.9 L109.5,357.7 L112.0,357.4 L114.5,357.0 L117.0,356.5 L119.6,356.0 L122.1,355.6 L124.6,355.3 L127.1,355.1 L129.6,355.0 L130.8,355.0 L132.1,355.1 L133.3,355.2 L134.6,355.3 L135.8,355.4 L137.0,355.5 L138.3,355.6 L139.5,355.7 L140.8,355.8 L142.0,355.8 L144.1,355.9 L146.2,356.0 L148.3,356.3 L150.4,356.6 L152.5,356.9 L154.6,357.2 L156.7,357.5 L158.8,357.8 L160.9,357.9 L163.0,358.0 L165.6,358.0 L168.1,357.9 L170.7,357.8 L173.2,357.7 L175.8,357.6 L178.3,357.5 L180.8,357.4 L183.4,357.3 L185.9,357.2 L188.5,357.2 L190.6,357.2 L192.7,357.3 L194.8,357.4 L196.9,357.5 L199.0,357.6 L201.1,357.7 L203.2,357.8 L205.3,357.9 L207.4,358.0 L209.5,358.0 L211.2,358.0 L212.9,358.2 L214.7,358.4 L216.4,358.7 L218.1,359.0 L219.8,359.3 L221.5,359.6 L223.3,359.8 L225.0,360.0 L226.7,360.0 L229.3,359.9 L231.9,359.6 L234.6,359.1 L237.2,358.5 L239.8,357.9 L242.4,357.3 L245.0,356.7 L247.7,356.2 L250.3,355.9 L252.9,355.8 L254.4,355.8 L255.9,355.7 L257.3,355.5 L258.8,355.4 L260.3,355.2 L261.8,354.9 L263.3,354.8 L264.7,354.6 L266.2,354.5 L267.7,354.5"/><path d="M66.3,357.2 L68.8,357.2 L71.3,357.4 L73.9,357.6 L76.4,357.8 L78.9,358.0 L81.4,358.3 L83.9,358.5 L86.5,358.7 L89.0,358.9 L91.5,358.9 L92.8,358.9 L94.1,358.9 L95.4,358.9 L96.7,358.9 L98.0,358.9 L99.3,358.9 L100.6,358.9 L101.9,358.9 L103.2,358.9 L104.5,358.9 L107.0,358.8 L109.5,358.6 L112.0,358.2 L114.5,357.7 L117.0,357.2 L119.6,356.7 L122.1,356.2 L124.6,355.8 L127.1,355.6 L129.6,355.5 L130.8,355.5 L132.1,355.5 L133.3,355.4 L134.6,355.3 L135.8,355.2 L137.0,355.2 L138.3,355.1 L139.5,355.0 L140.8,355.0 L142.0,355.0 L144.1,355.2 L146.2,355.6 L148.3,356.3 L150.4,357.2 L152.5,358.2 L154.6,359.3 L156.7,360.2 L158.8,360.9 L160.9,361.3 L163.0,361.5 L165.6,361.4 L168.1,361.2 L170.7,360.9 L173.2,360.5 L175.8,360.0 L178.3,359.5 L180.8,359.1 L183.4,358.8 L185.9,358.6 L188.5,358.5 L190.6,358.6 L192.7,358.8 L194.8,359.1 L196.9,359.5 L199.0,360.0 L201.1,360.5 L203.2,360.9 L205.3,361.2 L207.4,361.4 L209.5,361.5 L211.2,361.4 L212.9,361.0 L214.7,360.4 L216.4,359.6 L218.1,358.8 L219.8,357.9 L221.5,357.1 L223.3,356.5 L225.0,356.1 L226.7,356.0 L229.3,356.2 L231.9,356.7 L234.6,357.4 L237.2,358.4 L239.8,359.4 L242.4,360.5 L245.0,361.5 L247.7,362.2 L250.3,362.7 L252.9,362.9 L254.4,362.8 L255.9,362.5 L257.3,362.1 L258.8,361.6 L260.3,360.9 L261.8,360.3 L263.3,359.8 L264.7,359.4 L266.2,359.1 L267.7,359.0"/><path d="M66.3,366.5 L68.8,366.7 L71.3,367.2 L73.9,368.0 L76.4,369.0 L78.9,370.1 L81.4,371.1 L83.9,372.1 L86.5,372.9 L89.0,373.4 L91.5,373.6 L92.8,373.6 L94.1,373.6 L95.4,373.6 L96.7,373.6 L98.0,373.6 L99.3,373.6 L100.6,373.6 L101.9,373.6 L103.2,373.6 L104.5,373.6 L107.0,373.4 L109.5,373.0 L112.0,372.3 L114.5,371.4 L117.0,370.4 L119.6,369.4 L122.1,368.5 L124.6,367.8 L127.1,367.4 L129.6,367.2 L130.8,367.2 L132.1,367.1 L133.3,367.1 L134.6,367.0 L135.8,366.9 L137.0,366.7 L138.3,366.6 L139.5,366.6 L140.8,366.5 L142.0,366.5 L144.1,366.5 L146.2,366.4 L148.3,366.3 L150.4,366.2 L152.5,366.1 L154.6,366.0 L156.7,365.9 L158.8,365.8 L160.9,365.7 L163.0,365.7 L165.6,365.9 L168.1,366.5 L170.7,367.3 L173.2,368.4 L175.8,369.6 L178.3,370.9 L180.8,372.0 L183.4,372.8 L185.9,373.4 L188.5,373.6 L190.6,373.6 L192.7,373.5 L194.8,373.3 L196.9,373.1 L199.0,372.9 L201.1,372.7 L203.2,372.5 L205.3,372.3 L207.4,372.2 L209.5,372.2 L211.2,372.2 L212.9,372.3 L214.7,372.3 L216.4,372.4 L218.1,372.5 L219.8,372.7 L221.5,372.8 L223.3,372.8 L225.0,372.9 L226.7,372.9 L229.3,372.7 L231.9,372.3 L234.6,371.6 L237.2,370.7 L239.8,369.7 L242.4,368.7 L245.0,367.8 L247.7,367.1 L250.3,366.7 L252.9,366.5 L254.4,366.5 L255.9,366.5 L257.3,366.5 L258.8,366.5 L260.3,366.5 L261.8,366.5 L263.3,366.5 L264.7,366.5 L266.2,366.5 L267.7,366.5"/><path d="M66.3,369.3 L68.8,369.6 L71.3,370.5 L73.9,371.9 L76.4,373.7 L78.9,375.7 L81.4,377.7 L83.9,379.5 L86.5,380.9 L89.0,381.8 L91.5,382.1 L92.8,382.1 L94.1,382.1 L95.4,382.1 L96.7,382.1 L98.0,382.1 L99.3,382.1 L100.6,382.1 L101.9,382.1 L103.2,382.1 L104.5,382.1 L107.0,382.0 L109.5,381.6 L112.0,380.9 L114.5,380.1 L117.0,379.2 L119.6,378.4 L122.1,377.6 L124.6,376.9 L127.1,376.5 L129.6,376.4 L130.8,376.3 L132.1,376.1 L133.3,375.8 L134.6,375.4 L135.8,375.0 L137.0,374.6 L138.3,374.2 L139.5,373.9 L140.8,373.7 L142.0,373.6 L144.1,373.5 L146.2,373.3 L148.3,373.0 L150.4,372.6 L152.5,372.2 L154.6,371.7 L156.7,371.3 L158.8,371.0 L160.9,370.8 L163.0,370.7 L165.6,370.9 L168.1,371.4 L170.7,372.3 L173.2,373.4 L175.8,374.6 L178.3,375.8 L180.8,376.9 L183.4,377.8 L185.9,378.3 L188.5,378.5 L190.6,378.4 L192.7,378.3 L194.8,378.1 L196.9,377.8 L199.0,377.4 L201.1,377.1 L203.2,376.8 L205.3,376.6 L207.4,376.5 L209.5,376.4 L211.2,376.5 L212.9,376.6 L214.7,376.9 L216.4,377.2 L218.1,377.5 L219.8,377.8 L221.5,378.1 L223.3,378.4 L225.0,378.5 L226.7,378.6 L229.3,378.4 L231.9,378.0 L234.6,377.2 L237.2,376.3 L239.8,375.3 L242.4,374.3 L245.0,373.4 L247.7,372.6 L250.3,372.2 L252.9,372.0 L254.4,372.0 L255.9,372.1 L257.3,372.2 L258.8,372.3 L260.3,372.5 L261.8,372.7 L263.3,372.8 L264.7,372.9 L266.2,373.0 L267.7,373.0"/><path d="M66.3,377.1 L68.8,376.8 L71.3,376.0 L73.9,374.8 L76.4,373.3 L78.9,371.6 L81.4,369.8 L83.9,368.3 L86.5,367.1 L89.0,366.3 L91.5,366.0 L92.8,366.0 L94.1,366.2 L95.4,366.4 L96.7,366.7 L98.0,367.0 L99.3,367.3 L100.6,367.6 L101.9,367.8 L103.2,368.0 L104.5,368.0 L107.0,368.3 L109.5,369.3 L112.0,370.9 L114.5,372.9 L117.0,375.1 L119.6,377.2 L122.1,379.2 L124.6,380.8 L127.1,381.8 L129.6,382.1 L130.8,382.0 L132.1,381.6 L133.3,381.1 L134.6,380.4 L135.8,379.6 L137.0,378.8 L138.3,378.1 L139.5,377.6 L140.8,377.2 L142.0,377.1 L144.1,377.1 L146.2,377.1 L148.3,377.1 L150.4,377.1 L152.5,377.1 L154.6,377.1 L156.7,377.1 L158.8,377.1 L160.9,377.1 L163.0,377.1 L165.6,377.2 L168.1,377.4 L170.7,377.8 L173.2,378.3 L175.8,378.9 L178.3,379.5 L180.8,380.0 L183.4,380.4 L185.9,380.6 L188.5,380.7 L190.6,380.7 L192.7,380.8 L194.8,381.0 L196.9,381.2 L199.0,381.4 L201.1,381.6 L203.2,381.8 L205.3,382.0 L207.4,382.1 L209.5,382.1 L211.2,381.9 L212.9,381.4 L214.7,380.6 L216.4,379.6 L218.1,378.6 L219.8,377.5 L221.5,376.5 L223.3,375.7 L225.0,375.2 L226.7,375.0 L229.3,375.2 L231.9,375.7 L234.6,376.5 L237.2,377.5 L239.8,378.6 L242.4,379.6 L245.0,380.6 L247.7,381.4 L250.3,381.9 L252.9,382.1 L254.4,382.0 L255.9,381.6 L257.3,381.0 L258.8,380.3 L260.3,379.6 L261.8,378.8 L263.3,378.1 L264.7,377.5 L266.2,377.1 L267.7,377.0"/><path d="M66.3,380.0 L68.8,379.8 L71.3,379.4 L73.9,378.7 L76.4,377.8 L78.9,376.8 L81.4,375.8 L83.9,374.9 L86.5,374.2 L89.0,373.8 L91.5,373.6 L92.8,373.6 L94.1,373.6 L95.4,373.6 L96.7,373.6 L98.0,373.6 L99.3,373.6 L100.6,373.6 L101.9,373.6 L103.2,373.6 L104.5,373.6 L107.0,373.8 L109.5,374.3 L112.0,375.1 L114.5,376.2 L117.0,377.3 L119.6,378.4 L122.1,379.5 L124.6,380.3 L127.1,380.8 L129.6,381.0 L130.8,381.0 L132.1,381.0 L133.3,381.1 L134.6,381.1 L135.8,381.2 L137.0,381.3 L138.3,381.3 L139.5,381.4 L140.8,381.4 L142.0,381.4 L144.1,381.4 L146.2,381.5 L148.3,381.5 L150.4,381.6 L152.5,381.7 L154.6,381.8 L156.7,381.9 L158.8,381.9 L160.9,382.0 L163.0,382.0 L165.6,382.0 L168.1,382.2 L170.7,382.4 L173.2,382.7 L175.8,383.0 L178.3,383.3 L180.8,383.6 L183.4,383.8 L185.9,384.0 L188.5,384.0 L190.6,384.0 L192.7,384.0 L194.8,384.1 L196.9,384.2 L199.0,384.2 L201.1,384.3 L203.2,384.4 L205.3,384.5 L207.4,384.5 L209.5,384.5 L211.2,384.5 L212.9,384.5 L214.7,384.6 L216.4,384.7 L218.1,384.8 L219.8,384.8 L221.5,384.9 L223.3,385.0 L225.0,385.0 L226.7,385.0 L229.3,385.0 L231.9,384.9 L234.6,384.8 L237.2,384.7 L239.8,384.5 L242.4,384.3 L245.0,384.2 L247.7,384.1 L250.3,384.0 L252.9,384.0 L254.4,384.0 L255.9,384.2 L257.3,384.4 L258.8,384.7 L260.3,385.0 L261.8,385.3 L263.3,385.6 L264.7,385.8 L266.2,386.0 L267.7,386.0"/></g>
<g stroke="#e84848" stroke-width="1.35" stroke-dasharray="1 2"><path d="M66.3,242.4 C67.5,241.7 71.5,239.6 73.7,238.0 C75.9,236.4 77.5,234.8 79.5,232.9 C81.5,231.0 84.0,228.1 85.4,226.4 C86.8,224.8 87.0,223.9 88.0,223.0 C89.0,222.1 88.8,221.3 91.5,221.0 C94.2,220.7 101.7,220.3 104.5,221.0 C107.3,221.7 106.9,223.3 108.6,224.9 C110.3,226.5 112.5,228.8 114.5,230.7 C116.5,232.6 118.4,234.8 120.3,236.5 C122.2,238.2 124.5,239.9 126.1,240.9 C127.6,241.9 126.9,242.2 129.6,242.4 C132.2,242.7 138.3,243.1 142.0,242.4 C145.7,241.7 149.0,239.1 151.6,238.0 C154.2,236.9 155.6,236.2 157.5,235.8 C159.4,235.4 160.9,235.9 162.8,235.5 C164.7,235.1 166.8,234.4 169.1,233.6 C171.4,232.8 174.0,231.5 176.4,230.7 C178.8,229.9 181.2,229.5 183.6,229.0 C186.0,228.5 188.5,228.2 190.9,227.8 C193.3,227.4 196.0,226.9 198.2,226.4 C200.4,225.9 202.1,225.1 204.0,224.6 C205.9,224.1 207.8,223.3 209.5,223.5 C211.2,223.7 211.6,224.7 214.5,225.5 C217.4,226.3 223.4,227.3 226.7,228.2 C230.0,229.1 231.7,230.0 234.5,230.9 C237.3,231.8 240.6,232.8 243.6,233.6 C246.6,234.4 250.0,234.6 252.7,235.5 C255.4,236.4 257.5,237.9 260.0,239.1 C262.5,240.3 266.4,242.1 267.7,242.7"/><path d="M66.3,230.0 C66.9,229.5 68.8,228.0 70.0,227.0 C71.2,226.0 72.5,225.0 73.7,224.2 C74.9,223.4 76.0,222.6 77.0,222.0 C78.0,221.4 73.5,220.8 80.0,220.5 C86.5,220.2 109.5,220.2 116.0,220.5 C122.5,220.8 118.0,221.3 119.0,222.0 C120.0,222.7 120.5,223.8 121.7,224.9 C122.9,226.0 124.8,227.7 126.1,228.5 C127.4,229.3 126.9,229.8 129.6,230.0 C132.2,230.2 139.1,230.1 142.0,230.0 C144.9,229.9 145.2,229.9 147.3,229.3 C149.4,228.7 152.6,227.2 154.5,226.4 C156.4,225.6 157.7,224.8 158.9,224.2 C160.2,223.5 160.8,223.0 162.0,222.5 C163.2,222.0 152.0,221.2 166.0,221.0 C180.0,220.8 232.0,220.8 246.0,221.0 C260.0,221.2 248.9,221.9 250.0,222.5 C251.1,223.1 251.3,223.8 252.7,224.5 C254.1,225.2 256.4,225.6 258.2,226.4 C260.0,227.2 262.0,228.5 263.6,229.1 C265.2,229.7 267.0,229.8 267.7,230.0"/><path d="M172.0,226.0 C174.2,225.9 180.7,225.7 185.0,225.5 C189.3,225.3 193.5,225.0 198.0,224.8 C202.5,224.7 207.3,224.5 212.0,224.6 C216.7,224.7 221.7,225.3 226.0,225.5 C230.3,225.7 234.3,226.0 238.0,225.8 C241.7,225.6 246.3,224.7 248.0,224.5"/><path d="M66.3,335.8 L68.8,336.0 L71.3,336.5 L73.9,337.3 L76.4,338.3 L78.9,339.4 L81.4,340.5 L83.9,341.5 L86.5,342.3 L89.0,342.8 L91.5,343.0 L92.8,343.0 L94.1,343.0 L95.4,343.0 L96.7,343.0 L98.0,343.0 L99.3,343.0 L100.6,343.0 L101.9,343.0 L103.2,343.0 L104.5,343.0 L107.0,342.8 L109.5,342.4 L112.0,341.7 L114.5,340.8 L117.0,339.8 L119.6,338.7 L122.1,337.8 L124.6,337.1 L127.1,336.7 L129.6,336.5 L130.8,336.5 L132.1,336.5 L133.3,336.5 L134.6,336.5 L135.8,336.5 L137.0,336.5 L138.3,336.5 L139.5,336.5 L140.8,336.5 L142.0,336.5 L144.1,336.6 L146.2,337.0 L148.3,337.7 L150.4,338.5 L152.5,339.3 L154.6,340.2 L156.7,341.0 L158.8,341.7 L160.9,342.1 L163.0,342.2 L165.6,342.3 L168.1,342.6 L170.7,343.1 L173.2,343.7 L175.8,344.3 L178.3,345.0 L180.8,345.6 L183.4,346.1 L185.9,346.4 L188.5,346.5 L190.6,346.4 L192.7,346.2 L194.8,345.8 L196.9,345.3 L199.0,344.8 L201.1,344.2 L203.2,343.7 L205.3,343.3 L207.4,343.1 L209.5,343.0 L211.2,343.1 L212.9,343.4 L214.7,343.9 L216.4,344.5 L218.1,345.1 L219.8,345.7 L221.5,346.3 L223.3,346.8 L225.0,347.1 L226.7,347.2 L229.3,347.1 L231.9,346.7 L234.6,346.2 L237.2,345.5 L239.8,344.7 L242.4,343.9 L245.0,343.2 L247.7,342.7 L250.3,342.3 L252.9,342.2 L254.4,342.0 L255.9,341.6 L257.3,340.9 L258.8,340.0 L260.3,339.0 L261.8,338.0 L263.3,337.1 L264.7,336.4 L266.2,336.0 L267.7,335.8"/><path d="M66.3,350.8 L68.8,350.9 L71.3,351.1 L73.9,351.5 L76.4,352.0 L78.9,352.6 L81.4,353.2 L83.9,353.7 L86.5,354.1 L89.0,354.3 L91.5,354.4 L92.8,354.4 L94.1,354.4 L95.4,354.4 L96.7,354.4 L98.0,354.4 L99.3,354.4 L100.6,354.4 L101.9,354.4 L103.2,354.4 L104.5,354.4 L107.0,354.3 L109.5,354.1 L112.0,353.7 L114.5,353.2 L117.0,352.6 L119.6,352.0 L122.1,351.5 L124.6,351.1 L127.1,350.9 L129.6,350.8 L130.8,350.9 L132.1,351.1 L133.3,351.4 L134.6,351.8 L135.8,352.2 L137.0,352.6 L138.3,353.0 L139.5,353.3 L140.8,353.5 L142.0,353.6 L144.1,353.6 L146.2,353.7 L148.3,353.8 L150.4,353.9 L152.5,354.0 L154.6,354.1 L156.7,354.2 L158.8,354.3 L160.9,354.4 L163.0,354.4 L165.6,354.3 L168.1,354.1 L170.7,353.8 L173.2,353.4 L175.8,352.9 L178.3,352.5 L180.8,352.1 L183.4,351.8 L185.9,351.6 L188.5,351.5 L190.6,351.5 L192.7,351.6 L194.8,351.8 L196.9,352.0 L199.0,352.2 L201.1,352.4 L203.2,352.6 L205.3,352.8 L207.4,352.9 L209.5,352.9 L211.2,352.9 L212.9,352.8 L214.7,352.6 L216.4,352.4 L218.1,352.2 L219.8,352.0 L221.5,351.8 L223.3,351.6 L225.0,351.5 L226.7,351.5 L229.3,351.4 L231.9,351.2 L234.6,350.8 L237.2,350.3 L239.8,349.8 L242.4,349.2 L245.0,348.7 L247.7,348.3 L250.3,348.1 L252.9,348.0 L254.4,348.0 L255.9,348.2 L257.3,348.4 L258.8,348.7 L260.3,349.0 L261.8,349.3 L263.3,349.6 L264.7,349.8 L266.2,350.0 L267.7,350.0"/><path d="M66.3,355.8 L68.8,355.9 L71.3,356.0 L73.9,356.3 L76.4,356.6 L78.9,356.9 L81.4,357.2 L83.9,357.5 L86.5,357.8 L89.0,357.9 L91.5,358.0 L92.8,358.0 L94.1,358.0 L95.4,358.0 L96.7,358.0 L98.0,358.0 L99.3,358.0 L100.6,358.0 L101.9,358.0 L103.2,358.0 L104.5,358.0 L107.0,357.9 L109.5,357.7 L112.0,357.4 L114.5,357.0 L117.0,356.5 L119.6,356.0 L122.1,355.6 L124.6,355.3 L127.1,355.1 L129.6,355.0 L130.8,355.0 L132.1,355.1 L133.3,355.2 L134.6,355.3 L135.8,355.4 L137.0,355.5 L138.3,355.6 L139.5,355.7 L140.8,355.8 L142.0,355.8 L144.1,355.9 L146.2,356.0 L148.3,356.3 L150.4,356.6 L152.5,356.9 L154.6,357.2 L156.7,357.5 L158.8,357.8 L160.9,357.9 L163.0,358.0 L165.6,358.0 L168.1,357.9 L170.7,357.8 L173.2,357.7 L175.8,357.6 L178.3,357.5 L180.8,357.4 L183.4,357.3 L185.9,357.2 L188.5,357.2 L190.6,357.2 L192.7,357.3 L194.8,357.4 L196.9,357.5 L199.0,357.6 L201.1,357.7 L203.2,357.8 L205.3,357.9 L207.4,358.0 L209.5,358.0 L211.2,358.0 L212.9,358.2 L214.7,358.4 L216.4,358.7 L218.1,359.0 L219.8,359.3 L221.5,359.6 L223.3,359.8 L225.0,360.0 L226.7,360.0 L229.3,359.9 L231.9,359.6 L234.6,359.1 L237.2,358.5 L239.8,357.9 L242.4,357.3 L245.0,356.7 L247.7,356.2 L250.3,355.9 L252.9,355.8 L254.4,355.8 L255.9,355.7 L257.3,355.5 L258.8,355.4 L260.3,355.2 L261.8,354.9 L263.3,354.8 L264.7,354.6 L266.2,354.5 L267.7,354.5"/><path d="M66.3,357.2 L68.8,357.2 L71.3,357.4 L73.9,357.6 L76.4,357.8 L78.9,358.0 L81.4,358.3 L83.9,358.5 L86.5,358.7 L89.0,358.9 L91.5,358.9 L92.8,358.9 L94.1,358.9 L95.4,358.9 L96.7,358.9 L98.0,358.9 L99.3,358.9 L100.6,358.9 L101.9,358.9 L103.2,358.9 L104.5,358.9 L107.0,358.8 L109.5,358.6 L112.0,358.2 L114.5,357.7 L117.0,357.2 L119.6,356.7 L122.1,356.2 L124.6,355.8 L127.1,355.6 L129.6,355.5 L130.8,355.5 L132.1,355.5 L133.3,355.4 L134.6,355.3 L135.8,355.2 L137.0,355.2 L138.3,355.1 L139.5,355.0 L140.8,355.0 L142.0,355.0 L144.1,355.2 L146.2,355.6 L148.3,356.3 L150.4,357.2 L152.5,358.2 L154.6,359.3 L156.7,360.2 L158.8,360.9 L160.9,361.3 L163.0,361.5 L165.6,361.4 L168.1,361.2 L170.7,360.9 L173.2,360.5 L175.8,360.0 L178.3,359.5 L180.8,359.1 L183.4,358.8 L185.9,358.6 L188.5,358.5 L190.6,358.6 L192.7,358.8 L194.8,359.1 L196.9,359.5 L199.0,360.0 L201.1,360.5 L203.2,360.9 L205.3,361.2 L207.4,361.4 L209.5,361.5 L211.2,361.4 L212.9,361.0 L214.7,360.4 L216.4,359.6 L218.1,358.8 L219.8,357.9 L221.5,357.1 L223.3,356.5 L225.0,356.1 L226.7,356.0 L229.3,356.2 L231.9,356.7 L234.6,357.4 L237.2,358.4 L239.8,359.4 L242.4,360.5 L245.0,361.5 L247.7,362.2 L250.3,362.7 L252.9,362.9 L254.4,362.8 L255.9,362.5 L257.3,362.1 L258.8,361.6 L260.3,360.9 L261.8,360.3 L263.3,359.8 L264.7,359.4 L266.2,359.1 L267.7,359.0"/><path d="M66.3,366.5 L68.8,366.7 L71.3,367.2 L73.9,368.0 L76.4,369.0 L78.9,370.1 L81.4,371.1 L83.9,372.1 L86.5,372.9 L89.0,373.4 L91.5,373.6 L92.8,373.6 L94.1,373.6 L95.4,373.6 L96.7,373.6 L98.0,373.6 L99.3,373.6 L100.6,373.6 L101.9,373.6 L103.2,373.6 L104.5,373.6 L107.0,373.4 L109.5,373.0 L112.0,372.3 L114.5,371.4 L117.0,370.4 L119.6,369.4 L122.1,368.5 L124.6,367.8 L127.1,367.4 L129.6,367.2 L130.8,367.2 L132.1,367.1 L133.3,367.1 L134.6,367.0 L135.8,366.9 L137.0,366.7 L138.3,366.6 L139.5,366.6 L140.8,366.5 L142.0,366.5 L144.1,366.5 L146.2,366.4 L148.3,366.3 L150.4,366.2 L152.5,366.1 L154.6,366.0 L156.7,365.9 L158.8,365.8 L160.9,365.7 L163.0,365.7 L165.6,365.9 L168.1,366.5 L170.7,367.3 L173.2,368.4 L175.8,369.6 L178.3,370.9 L180.8,372.0 L183.4,372.8 L185.9,373.4 L188.5,373.6 L190.6,373.6 L192.7,373.5 L194.8,373.3 L196.9,373.1 L199.0,372.9 L201.1,372.7 L203.2,372.5 L205.3,372.3 L207.4,372.2 L209.5,372.2 L211.2,372.2 L212.9,372.3 L214.7,372.3 L216.4,372.4 L218.1,372.5 L219.8,372.7 L221.5,372.8 L223.3,372.8 L225.0,372.9 L226.7,372.9 L229.3,372.7 L231.9,372.3 L234.6,371.6 L237.2,370.7 L239.8,369.7 L242.4,368.7 L245.0,367.8 L247.7,367.1 L250.3,366.7 L252.9,366.5 L254.4,366.5 L255.9,366.5 L257.3,366.5 L258.8,366.5 L260.3,366.5 L261.8,366.5 L263.3,366.5 L264.7,366.5 L266.2,366.5 L267.7,366.5"/><path d="M66.3,369.3 L68.8,369.6 L71.3,370.5 L73.9,371.9 L76.4,373.7 L78.9,375.7 L81.4,377.7 L83.9,379.5 L86.5,380.9 L89.0,381.8 L91.5,382.1 L92.8,382.1 L94.1,382.1 L95.4,382.1 L96.7,382.1 L98.0,382.1 L99.3,382.1 L100.6,382.1 L101.9,382.1 L103.2,382.1 L104.5,382.1 L107.0,382.0 L109.5,381.6 L112.0,380.9 L114.5,380.1 L117.0,379.2 L119.6,378.4 L122.1,377.6 L124.6,376.9 L127.1,376.5 L129.6,376.4 L130.8,376.3 L132.1,376.1 L133.3,375.8 L134.6,375.4 L135.8,375.0 L137.0,374.6 L138.3,374.2 L139.5,373.9 L140.8,373.7 L142.0,373.6 L144.1,373.5 L146.2,373.3 L148.3,373.0 L150.4,372.6 L152.5,372.2 L154.6,371.7 L156.7,371.3 L158.8,371.0 L160.9,370.8 L163.0,370.7 L165.6,370.9 L168.1,371.4 L170.7,372.3 L173.2,373.4 L175.8,374.6 L178.3,375.8 L180.8,376.9 L183.4,377.8 L185.9,378.3 L188.5,378.5 L190.6,378.4 L192.7,378.3 L194.8,378.1 L196.9,377.8 L199.0,377.4 L201.1,377.1 L203.2,376.8 L205.3,376.6 L207.4,376.5 L209.5,376.4 L211.2,376.5 L212.9,376.6 L214.7,376.9 L216.4,377.2 L218.1,377.5 L219.8,377.8 L221.5,378.1 L223.3,378.4 L225.0,378.5 L226.7,378.6 L229.3,378.4 L231.9,378.0 L234.6,377.2 L237.2,376.3 L239.8,375.3 L242.4,374.3 L245.0,373.4 L247.7,372.6 L250.3,372.2 L252.9,372.0 L254.4,372.0 L255.9,372.1 L257.3,372.2 L258.8,372.3 L260.3,372.5 L261.8,372.7 L263.3,372.8 L264.7,372.9 L266.2,373.0 L267.7,373.0"/><path d="M66.3,377.1 L68.8,376.8 L71.3,376.0 L73.9,374.8 L76.4,373.3 L78.9,371.6 L81.4,369.8 L83.9,368.3 L86.5,367.1 L89.0,366.3 L91.5,366.0 L92.8,366.0 L94.1,366.2 L95.4,366.4 L96.7,366.7 L98.0,367.0 L99.3,367.3 L100.6,367.6 L101.9,367.8 L103.2,368.0 L104.5,368.0 L107.0,368.3 L109.5,369.3 L112.0,370.9 L114.5,372.9 L117.0,375.1 L119.6,377.2 L122.1,379.2 L124.6,380.8 L127.1,381.8 L129.6,382.1 L130.8,382.0 L132.1,381.6 L133.3,381.1 L134.6,380.4 L135.8,379.6 L137.0,378.8 L138.3,378.1 L139.5,377.6 L140.8,377.2 L142.0,377.1 L144.1,377.1 L146.2,377.1 L148.3,377.1 L150.4,377.1 L152.5,377.1 L154.6,377.1 L156.7,377.1 L158.8,377.1 L160.9,377.1 L163.0,377.1 L165.6,377.2 L168.1,377.4 L170.7,377.8 L173.2,378.3 L175.8,378.9 L178.3,379.5 L180.8,380.0 L183.4,380.4 L185.9,380.6 L188.5,380.7 L190.6,380.7 L192.7,380.8 L194.8,381.0 L196.9,381.2 L199.0,381.4 L201.1,381.6 L203.2,381.8 L205.3,382.0 L207.4,382.1 L209.5,382.1 L211.2,381.9 L212.9,381.4 L214.7,380.6 L216.4,379.6 L218.1,378.6 L219.8,377.5 L221.5,376.5 L223.3,375.7 L225.0,375.2 L226.7,375.0 L229.3,375.2 L231.9,375.7 L234.6,376.5 L237.2,377.5 L239.8,378.6 L242.4,379.6 L245.0,380.6 L247.7,381.4 L250.3,381.9 L252.9,382.1 L254.4,382.0 L255.9,381.6 L257.3,381.0 L258.8,380.3 L260.3,379.6 L261.8,378.8 L263.3,378.1 L264.7,377.5 L266.2,377.1 L267.7,377.0"/><path d="M66.3,380.0 L68.8,379.8 L71.3,379.4 L73.9,378.7 L76.4,377.8 L78.9,376.8 L81.4,375.8 L83.9,374.9 L86.5,374.2 L89.0,373.8 L91.5,373.6 L92.8,373.6 L94.1,373.6 L95.4,373.6 L96.7,373.6 L98.0,373.6 L99.3,373.6 L100.6,373.6 L101.9,373.6 L103.2,373.6 L104.5,373.6 L107.0,373.8 L109.5,374.3 L112.0,375.1 L114.5,376.2 L117.0,377.3 L119.6,378.4 L122.1,379.5 L124.6,380.3 L127.1,380.8 L129.6,381.0 L130.8,381.0 L132.1,381.0 L133.3,381.1 L134.6,381.1 L135.8,381.2 L137.0,381.3 L138.3,381.3 L139.5,381.4 L140.8,381.4 L142.0,381.4 L144.1,381.4 L146.2,381.5 L148.3,381.5 L150.4,381.6 L152.5,381.7 L154.6,381.8 L156.7,381.9 L158.8,381.9 L160.9,382.0 L163.0,382.0 L165.6,382.0 L168.1,382.2 L170.7,382.4 L173.2,382.7 L175.8,383.0 L178.3,383.3 L180.8,383.6 L183.4,383.8 L185.9,384.0 L188.5,384.0 L190.6,384.0 L192.7,384.0 L194.8,384.1 L196.9,384.2 L199.0,384.2 L201.1,384.3 L203.2,384.4 L205.3,384.5 L207.4,384.5 L209.5,384.5 L211.2,384.5 L212.9,384.5 L214.7,384.6 L216.4,384.7 L218.1,384.8 L219.8,384.8 L221.5,384.9 L223.3,385.0 L225.0,385.0 L226.7,385.0 L229.3,385.0 L231.9,384.9 L234.6,384.8 L237.2,384.7 L239.8,384.5 L242.4,384.3 L245.0,384.2 L247.7,384.1 L250.3,384.0 L252.9,384.0 L254.4,384.0 L255.9,384.2 L257.3,384.4 L258.8,384.7 L260.3,385.0 L261.8,385.3 L263.3,385.6 L264.7,385.8 L266.2,386.0 L267.7,386.0"/></g>
<g stroke="#30a090" stroke-width="1.1"><path d="M66.3,252.5 C67.5,251.8 71.5,250.1 73.7,248.2 C75.9,246.3 77.5,243.6 79.5,240.9 C81.5,238.2 83.7,234.8 85.4,232.2 C87.1,229.6 88.6,227.2 89.7,225.6 C90.8,224.0 90.6,223.2 92.0,222.5 C93.4,221.8 96.2,221.5 98.0,221.5 C99.8,221.5 101.7,221.9 103.0,222.5 C104.3,223.1 104.3,223.3 105.7,224.9 C107.1,226.5 109.5,229.5 111.5,232.2 C113.5,234.9 115.5,238.1 117.4,240.9 C119.4,243.7 121.5,247.1 123.2,248.9 C124.9,250.7 126.3,251.2 127.5,251.8 C128.7,252.5 128.1,252.6 130.5,252.8 C132.9,253.0 139.4,252.9 142.0,252.8 C144.6,252.8 144.2,253.0 145.8,252.5 C147.4,252.0 149.7,250.8 151.6,249.6 C153.5,248.4 155.6,246.4 157.5,245.3 C159.4,244.2 160.9,243.9 162.8,243.1 C164.7,242.2 166.8,241.6 169.1,240.2 C171.4,238.8 174.0,236.0 176.4,234.4 C178.8,232.8 181.6,231.5 183.6,230.7 C185.6,229.9 186.4,230.1 188.3,229.6 C190.2,229.1 192.9,228.5 195.3,227.8 C197.7,227.1 200.2,226.2 202.5,225.6 C204.8,225.0 207.0,224.0 209.3,224.1 C211.6,224.2 213.5,225.3 216.4,226.4 C219.3,227.5 223.7,229.4 226.7,230.4 C229.7,231.4 231.7,231.2 234.5,232.7 C237.3,234.1 240.6,237.3 243.6,239.1 C246.6,240.9 250.0,242.1 252.7,243.6 C255.4,245.1 257.5,246.6 260.0,248.2 C262.5,249.8 266.4,252.3 267.7,253.1"/><path d="M66.3,233.6 C67.1,232.8 69.3,230.6 71.0,229.0 C72.7,227.4 75.1,225.5 76.6,224.2 C78.1,222.9 78.8,221.9 80.0,221.0 C81.2,220.1 78.7,219.3 84.0,219.0 C89.3,218.7 106.7,218.7 112.0,219.0 C117.3,219.3 114.9,220.0 116.0,221.0 C117.1,222.0 117.6,223.5 118.8,224.9 C120.0,226.3 121.5,227.9 123.2,229.3 C124.9,230.8 125.9,232.8 129.0,233.6 C132.1,234.4 139.2,234.4 142.0,234.4 C144.8,234.4 144.2,234.3 145.8,233.6 C147.4,232.9 149.7,231.1 151.6,230.0 C153.5,228.9 155.6,227.3 157.5,227.1 C159.4,226.8 161.1,228.5 162.8,228.5 C164.5,228.5 166.3,227.8 167.6,227.1 C168.9,226.4 169.4,225.0 170.5,224.2 C171.6,223.3 172.8,222.5 174.0,222.0 C175.2,221.5 167.7,221.2 178.0,221.0 C188.3,220.8 225.7,220.8 236.0,221.0 C246.3,221.2 238.7,221.4 240.0,222.0 C241.3,222.6 242.1,223.6 243.6,224.5 C245.1,225.4 247.5,226.7 249.0,227.3 C250.5,227.9 251.4,228.2 252.7,228.2 C254.0,228.2 255.5,227.2 257.0,227.5 C258.5,227.8 260.0,229.0 261.8,230.0 C263.6,231.0 266.7,233.0 267.7,233.6"/><path d="M66.3,332.3 L68.8,332.5 L71.3,333.2 L73.9,334.3 L76.4,335.7 L78.9,337.2 L81.4,338.8 L83.9,340.2 L86.5,341.3 L89.0,342.0 L91.5,342.2 L92.8,342.2 L94.1,342.2 L95.4,342.2 L96.7,342.2 L98.0,342.2 L99.3,342.2 L100.6,342.2 L101.9,342.2 L103.2,342.2 L104.5,342.2 L107.0,341.9 L109.5,341.2 L112.0,340.0 L114.5,338.5 L117.0,336.9 L119.6,335.3 L122.1,333.8 L124.6,332.6 L127.1,331.9 L129.6,331.6 L130.8,331.6 L132.1,331.6 L133.3,331.6 L134.6,331.6 L135.8,331.6 L137.0,331.6 L138.3,331.6 L139.5,331.6 L140.8,331.6 L142.0,331.6 L144.1,331.6 L146.2,331.6 L148.3,331.6 L150.4,331.6 L152.5,331.6 L154.6,331.6 L156.7,331.6 L158.8,331.6 L160.9,331.6 L163.0,331.6 L165.6,331.8 L168.1,332.5 L170.7,333.6 L173.2,335.0 L175.8,336.6 L178.3,338.1 L180.8,339.5 L183.4,340.6 L185.9,341.3 L188.5,341.5 L190.6,341.5 L192.7,341.6 L194.8,341.6 L196.9,341.7 L199.0,341.8 L201.1,342.0 L203.2,342.1 L205.3,342.1 L207.4,342.2 L209.5,342.2 L211.2,342.2 L212.9,342.1 L214.7,342.1 L216.4,342.0 L218.1,341.9 L219.8,341.7 L221.5,341.6 L223.3,341.6 L225.0,341.5 L226.7,341.5 L229.3,341.3 L231.9,340.8 L234.6,339.9 L237.2,338.8 L239.8,337.6 L242.4,336.4 L245.0,335.3 L247.7,334.4 L250.3,333.9 L252.9,333.7 L254.4,333.7 L255.9,333.6 L257.3,333.4 L258.8,333.2 L260.3,333.0 L261.8,332.8 L263.3,332.6 L264.7,332.4 L266.2,332.3 L267.7,332.3"/><path d="M66.3,344.4 L68.8,344.5 L71.3,344.9 L73.9,345.5 L76.4,346.2 L78.9,346.9 L81.4,347.7 L83.9,348.4 L86.5,349.0 L89.0,349.4 L91.5,349.5 L92.8,349.5 L94.1,349.5 L95.4,349.5 L96.7,349.5 L98.0,349.5 L99.3,349.5 L100.6,349.5 L101.9,349.5 L103.2,349.5 L104.5,349.5 L107.0,349.4 L109.5,349.1 L112.0,348.5 L114.5,347.9 L117.0,347.2 L119.6,346.4 L122.1,345.8 L124.6,345.2 L127.1,344.9 L129.6,344.8 L130.8,344.8 L132.1,344.8 L133.3,344.7 L134.6,344.7 L135.8,344.6 L137.0,344.5 L138.3,344.5 L139.5,344.4 L140.8,344.4 L142.0,344.4 L144.1,344.4 L146.2,344.5 L148.3,344.5 L150.4,344.6 L152.5,344.7 L154.6,344.8 L156.7,344.9 L158.8,344.9 L160.9,345.0 L163.0,345.0 L165.6,345.1 L168.1,345.2 L170.7,345.5 L173.2,345.8 L175.8,346.1 L178.3,346.4 L180.8,346.7 L183.4,347.0 L185.9,347.1 L188.5,347.2 L190.6,347.3 L192.7,347.6 L194.8,348.1 L196.9,348.7 L199.0,349.3 L201.1,350.0 L203.2,350.6 L205.3,351.1 L207.4,351.4 L209.5,351.5 L211.2,351.4 L212.9,351.3 L214.7,351.1 L216.4,350.8 L218.1,350.4 L219.8,350.1 L221.5,349.8 L223.3,349.6 L225.0,349.5 L226.7,349.4 L229.3,349.3 L231.9,348.9 L234.6,348.4 L237.2,347.7 L239.8,346.9 L242.4,346.1 L245.0,345.4 L247.7,344.9 L250.3,344.5 L252.9,344.4 L254.4,344.4 L255.9,344.3 L257.3,344.1 L258.8,343.9 L260.3,343.7 L261.8,343.5 L263.3,343.3 L264.7,343.1 L266.2,343.0 L267.7,343.0"/><path d="M66.3,352.9 L68.8,352.9 L71.3,352.8 L73.9,352.6 L76.4,352.4 L78.9,352.2 L81.4,352.0 L83.9,351.8 L86.5,351.6 L89.0,351.5 L91.5,351.5 L92.8,351.5 L94.1,351.5 L95.4,351.5 L96.7,351.5 L98.0,351.5 L99.3,351.5 L100.6,351.5 L101.9,351.5 L103.2,351.5 L104.5,351.5 L107.0,351.6 L109.5,351.8 L112.0,352.1 L114.5,352.5 L117.0,352.9 L119.6,353.4 L122.1,353.8 L124.6,354.1 L127.1,354.3 L129.6,354.4 L130.8,354.4 L132.1,354.4 L133.3,354.3 L134.6,354.3 L135.8,354.2 L137.0,354.1 L138.3,354.1 L139.5,354.0 L140.8,354.0 L142.0,354.0 L144.1,353.9 L146.2,353.7 L148.3,353.3 L150.4,352.9 L152.5,352.4 L154.6,351.9 L156.7,351.5 L158.8,351.1 L160.9,350.9 L163.0,350.8 L165.6,350.9 L168.1,351.3 L170.7,351.8 L173.2,352.5 L175.8,353.3 L178.3,354.1 L180.8,354.8 L183.4,355.3 L185.9,355.7 L188.5,355.8 L190.6,355.9 L192.7,356.1 L194.8,356.4 L196.9,356.8 L199.0,357.2 L201.1,357.6 L203.2,358.0 L205.3,358.3 L207.4,358.5 L209.5,358.6 L211.2,358.6 L212.9,358.5 L214.7,358.3 L216.4,358.1 L218.1,357.9 L219.8,357.7 L221.5,357.5 L223.3,357.3 L225.0,357.2 L226.7,357.2 L229.3,357.1 L231.9,356.7 L234.6,356.2 L237.2,355.5 L239.8,354.7 L242.4,353.9 L245.0,353.2 L247.7,352.7 L250.3,352.3 L252.9,352.2 L254.4,352.2 L255.9,352.3 L257.3,352.5 L258.8,352.7 L260.3,352.9 L261.8,353.1 L263.3,353.3 L264.7,353.5 L266.2,353.6 L267.7,353.6"/><path d="M66.3,353.6 L68.8,353.8 L71.3,354.4 L73.9,355.2 L76.4,356.3 L78.9,357.6 L81.4,358.8 L83.9,359.9 L86.5,360.7 L89.0,361.3 L91.5,361.5 L92.8,361.5 L94.1,361.5 L95.4,361.5 L96.7,361.5 L98.0,361.5 L99.3,361.5 L100.6,361.5 L101.9,361.5 L103.2,361.5 L104.5,361.5 L107.0,361.6 L109.5,361.8 L112.0,362.1 L114.5,362.5 L117.0,362.9 L119.6,363.3 L122.1,363.7 L124.6,364.0 L127.1,364.2 L129.6,364.3 L130.8,364.3 L132.1,364.3 L133.3,364.3 L134.6,364.3 L135.8,364.3 L137.0,364.3 L138.3,364.3 L139.5,364.3 L140.8,364.3 L142.0,364.3 L144.1,364.1 L146.2,363.5 L148.3,362.6 L150.4,361.4 L152.5,360.2 L154.6,358.9 L156.7,357.7 L158.8,356.8 L160.9,356.2 L163.0,356.0 L165.6,356.1 L168.1,356.4 L170.7,356.8 L173.2,357.4 L175.8,358.0 L178.3,358.6 L180.8,359.2 L183.4,359.6 L185.9,359.9 L188.5,360.0 L190.6,360.1 L192.7,360.3 L194.8,360.6 L196.9,361.0 L199.0,361.4 L201.1,361.9 L203.2,362.3 L205.3,362.6 L207.4,362.8 L209.5,362.9 L211.2,362.9 L212.9,362.8 L214.7,362.7 L216.4,362.6 L218.1,362.4 L219.8,362.3 L221.5,362.2 L223.3,362.1 L225.0,362.0 L226.7,362.0 L229.3,362.1 L231.9,362.4 L234.6,362.8 L237.2,363.3 L239.8,363.8 L242.4,364.4 L245.0,364.9 L247.7,365.3 L250.3,365.6 L252.9,365.7 L254.4,365.6 L255.9,365.5 L257.3,365.3 L258.8,365.0 L260.3,364.7 L261.8,364.3 L263.3,364.0 L264.7,363.8 L266.2,363.7 L267.7,363.6"/><path d="M66.3,360.0 L68.8,360.1 L71.3,360.4 L73.9,360.9 L76.4,361.5 L78.9,362.1 L81.4,362.8 L83.9,363.4 L86.5,363.9 L89.0,364.2 L91.5,364.3 L92.8,364.3 L94.1,364.3 L95.4,364.3 L96.7,364.3 L98.0,364.3 L99.3,364.3 L100.6,364.3 L101.9,364.3 L103.2,364.3 L104.5,364.3 L107.0,364.4 L109.5,364.8 L112.0,365.5 L114.5,366.3 L117.0,367.1 L119.6,368.0 L122.1,368.8 L124.6,369.5 L127.1,369.9 L129.6,370.0 L130.8,370.0 L132.1,369.9 L133.3,369.9 L134.6,369.8 L135.8,369.7 L137.0,369.5 L138.3,369.4 L139.5,369.4 L140.8,369.3 L142.0,369.3 L144.1,369.1 L146.2,368.7 L148.3,368.0 L150.4,367.1 L152.5,366.1 L154.6,365.1 L156.7,364.2 L158.8,363.5 L160.9,363.1 L163.0,362.9 L165.6,363.1 L168.1,363.5 L170.7,364.2 L173.2,365.1 L175.8,366.1 L178.3,367.1 L180.8,368.0 L183.4,368.7 L185.9,369.1 L188.5,369.3 L190.6,369.2 L192.7,368.8 L194.8,368.3 L196.9,367.6 L199.0,366.8 L201.1,366.0 L203.2,365.3 L205.3,364.8 L207.4,364.4 L209.5,364.3 L211.2,364.5 L212.9,364.9 L214.7,365.6 L216.4,366.5 L218.1,367.5 L219.8,368.5 L221.5,369.4 L223.3,370.1 L225.0,370.5 L226.7,370.7 L229.3,370.7 L231.9,370.7 L234.6,370.7 L237.2,370.7 L239.8,370.7 L242.4,370.7 L245.0,370.7 L247.7,370.7 L250.3,370.7 L252.9,370.7 L254.4,370.7 L255.9,370.6 L257.3,370.4 L258.8,370.2 L260.3,370.0 L261.8,369.8 L263.3,369.6 L264.7,369.4 L266.2,369.3 L267.7,369.3"/><path d="M66.3,370.7 L68.8,370.8 L71.3,371.3 L73.9,371.9 L76.4,372.7 L78.9,373.6 L81.4,374.5 L83.9,375.3 L86.5,375.9 L89.0,376.4 L91.5,376.5 L92.8,376.5 L94.1,376.5 L95.4,376.5 L96.7,376.5 L98.0,376.5 L99.3,376.5 L100.6,376.5 L101.9,376.5 L103.2,376.5 L104.5,376.5 L107.0,376.4 L109.5,376.2 L112.0,375.8 L114.5,375.3 L117.0,374.8 L119.6,374.2 L122.1,373.7 L124.6,373.3 L127.1,373.1 L129.6,373.0 L130.8,373.0 L132.1,373.0 L133.3,373.0 L134.6,373.0 L135.8,373.0 L137.0,373.0 L138.3,373.0 L139.5,373.0 L140.8,373.0 L142.0,373.0 L144.1,372.9 L146.2,372.5 L148.3,371.9 L150.4,371.2 L152.5,370.4 L154.6,369.7 L156.7,369.0 L158.8,368.4 L160.9,368.0 L163.0,367.9 L165.6,368.1 L168.1,368.7 L170.7,369.7 L173.2,370.8 L175.8,372.1 L178.3,373.5 L180.8,374.6 L183.4,375.6 L185.9,376.2 L188.5,376.4 L190.6,376.4 L192.7,376.3 L194.8,376.1 L196.9,375.9 L199.0,375.7 L201.1,375.5 L203.2,375.3 L205.3,375.1 L207.4,375.0 L209.5,375.0 L211.2,375.0 L212.9,375.0 L214.7,375.0 L216.4,375.0 L218.1,375.0 L219.8,375.0 L221.5,375.0 L223.3,375.0 L225.0,375.0 L226.7,375.0 L229.3,375.2 L231.9,375.7 L234.6,376.4 L237.2,377.4 L239.8,378.5 L242.4,379.6 L245.0,380.6 L247.7,381.3 L250.3,381.8 L252.9,382.0 L254.4,381.8 L255.9,381.0 L257.3,379.9 L258.8,378.5 L260.3,377.0 L261.8,375.5 L263.3,374.1 L264.7,373.0 L266.2,372.2 L267.7,372.0"/><path d="M66.3,375.0 L68.8,375.1 L71.3,375.3 L73.9,375.6 L76.4,376.0 L78.9,376.4 L81.4,376.9 L83.9,377.3 L86.5,377.6 L89.0,377.8 L91.5,377.9 L92.8,377.9 L94.1,377.9 L95.4,377.9 L96.7,377.9 L98.0,377.9 L99.3,377.9 L100.6,377.9 L101.9,377.9 L103.2,377.9 L104.5,377.9 L107.0,378.1 L109.5,378.5 L112.0,379.2 L114.5,380.1 L117.0,381.1 L119.6,382.1 L122.1,383.0 L124.6,383.7 L127.1,384.1 L129.6,384.3 L130.8,384.3 L132.1,384.3 L133.3,384.2 L134.6,384.2 L135.8,384.2 L137.0,384.1 L138.3,384.1 L139.5,384.0 L140.8,384.0 L142.0,384.0 L144.1,383.8 L146.2,383.1 L148.3,382.1 L150.4,380.9 L152.5,379.5 L154.6,378.1 L156.7,376.9 L158.8,375.9 L160.9,375.2 L163.0,375.0 L165.6,375.1 L168.1,375.5 L170.7,376.0 L173.2,376.7 L175.8,377.5 L178.3,378.3 L180.8,379.0 L183.4,379.5 L185.9,379.9 L188.5,380.0 L190.6,380.0 L192.7,379.9 L194.8,379.7 L196.9,379.5 L199.0,379.3 L201.1,379.1 L203.2,378.9 L205.3,378.7 L207.4,378.6 L209.5,378.6 L211.2,378.6 L212.9,378.7 L214.7,378.9 L216.4,379.1 L218.1,379.3 L219.8,379.5 L221.5,379.7 L223.3,379.9 L225.0,380.0 L226.7,380.0 L229.3,379.9 L231.9,379.6 L234.6,379.2 L237.2,378.6 L239.8,378.0 L242.4,377.4 L245.0,376.8 L247.7,376.4 L250.3,376.1 L252.9,376.0 L254.4,376.2 L255.9,376.8 L257.3,377.6 L258.8,378.8 L260.3,380.0 L261.8,381.2 L263.3,382.4 L264.7,383.2 L266.2,383.8 L267.7,384.0"/><path d="M66.3,382.1 L68.8,382.2 L71.3,382.3 L73.9,382.6 L76.4,382.9 L78.9,383.2 L81.4,383.5 L83.9,383.8 L86.5,384.1 L89.0,384.2 L91.5,384.3 L92.8,384.3 L94.1,384.3 L95.4,384.3 L96.7,384.3 L98.0,384.3 L99.3,384.3 L100.6,384.3 L101.9,384.3 L103.2,384.3 L104.5,384.3 L107.0,384.3 L109.5,384.4 L112.0,384.5 L114.5,384.7 L117.0,384.9 L119.6,385.1 L122.1,385.3 L124.6,385.4 L127.1,385.5 L129.6,385.5 L130.8,385.5 L132.1,385.5 L133.3,385.5 L134.6,385.5 L135.8,385.5 L137.0,385.5 L138.3,385.5 L139.5,385.5 L140.8,385.5 L142.0,385.5 L144.1,385.4 L146.2,385.1 L148.3,384.6 L150.4,383.9 L152.5,383.2 L154.6,382.6 L156.7,381.9 L158.8,381.4 L160.9,381.1 L163.0,381.0 L165.6,381.1 L168.1,381.3 L170.7,381.7 L173.2,382.1 L175.8,382.6 L178.3,383.2 L180.8,383.6 L183.4,384.0 L185.9,384.2 L188.5,384.3 L190.6,384.3 L192.7,384.4 L194.8,384.5 L196.9,384.7 L199.0,384.9 L201.1,385.1 L203.2,385.3 L205.3,385.4 L207.4,385.5 L209.5,385.5 L211.2,385.5 L212.9,385.5 L214.7,385.5 L216.4,385.5 L218.1,385.5 L219.8,385.5 L221.5,385.5 L223.3,385.5 L225.0,385.5 L226.7,385.5 L229.3,385.5 L231.9,385.5 L234.6,385.4 L237.2,385.3 L239.8,385.2 L242.4,385.2 L245.0,385.1 L247.7,385.0 L250.3,385.0 L252.9,385.0 L254.4,384.8 L255.9,384.3 L257.3,383.6 L258.8,382.6 L260.3,381.5 L261.8,380.4 L263.3,379.4 L264.7,378.7 L266.2,378.2 L267.7,378.0"/></g>
<g stroke="#108070" stroke-width="1.35" stroke-dasharray="1 2"><path d="M66.3,252.5 C67.5,251.8 71.5,250.1 73.7,248.2 C75.9,246.3 77.5,243.6 79.5,240.9 C81.5,238.2 83.7,234.8 85.4,232.2 C87.1,229.6 88.6,227.2 89.7,225.6 C90.8,224.0 90.6,223.2 92.0,222.5 C93.4,221.8 96.2,221.5 98.0,221.5 C99.8,221.5 101.7,221.9 103.0,222.5 C104.3,223.1 104.3,223.3 105.7,224.9 C107.1,226.5 109.5,229.5 111.5,232.2 C113.5,234.9 115.5,238.1 117.4,240.9 C119.4,243.7 121.5,247.1 123.2,248.9 C124.9,250.7 126.3,251.2 127.5,251.8 C128.7,252.5 128.1,252.6 130.5,252.8 C132.9,253.0 139.4,252.9 142.0,252.8 C144.6,252.8 144.2,253.0 145.8,252.5 C147.4,252.0 149.7,250.8 151.6,249.6 C153.5,248.4 155.6,246.4 157.5,245.3 C159.4,244.2 160.9,243.9 162.8,243.1 C164.7,242.2 166.8,241.6 169.1,240.2 C171.4,238.8 174.0,236.0 176.4,234.4 C178.8,232.8 181.6,231.5 183.6,230.7 C185.6,229.9 186.4,230.1 188.3,229.6 C190.2,229.1 192.9,228.5 195.3,227.8 C197.7,227.1 200.2,226.2 202.5,225.6 C204.8,225.0 207.0,224.0 209.3,224.1 C211.6,224.2 213.5,225.3 216.4,226.4 C219.3,227.5 223.7,229.4 226.7,230.4 C229.7,231.4 231.7,231.2 234.5,232.7 C237.3,234.1 240.6,237.3 243.6,239.1 C246.6,240.9 250.0,242.1 252.7,243.6 C255.4,245.1 257.5,246.6 260.0,248.2 C262.5,249.8 266.4,252.3 267.7,253.1"/><path d="M66.3,233.6 C67.1,232.8 69.3,230.6 71.0,229.0 C72.7,227.4 75.1,225.5 76.6,224.2 C78.1,222.9 78.8,221.9 80.0,221.0 C81.2,220.1 78.7,219.3 84.0,219.0 C89.3,218.7 106.7,218.7 112.0,219.0 C117.3,219.3 114.9,220.0 116.0,221.0 C117.1,222.0 117.6,223.5 118.8,224.9 C120.0,226.3 121.5,227.9 123.2,229.3 C124.9,230.8 125.9,232.8 129.0,233.6 C132.1,234.4 139.2,234.4 142.0,234.4 C144.8,234.4 144.2,234.3 145.8,233.6 C147.4,232.9 149.7,231.1 151.6,230.0 C153.5,228.9 155.6,227.3 157.5,227.1 C159.4,226.8 161.1,228.5 162.8,228.5 C164.5,228.5 166.3,227.8 167.6,227.1 C168.9,226.4 169.4,225.0 170.5,224.2 C171.6,223.3 172.8,222.5 174.0,222.0 C175.2,221.5 167.7,221.2 178.0,221.0 C188.3,220.8 225.7,220.8 236.0,221.0 C246.3,221.2 238.7,221.4 240.0,222.0 C241.3,222.6 242.1,223.6 243.6,224.5 C245.1,225.4 247.5,226.7 249.0,227.3 C250.5,227.9 251.4,228.2 252.7,228.2 C254.0,228.2 255.5,227.2 257.0,227.5 C258.5,227.8 260.0,229.0 261.8,230.0 C263.6,231.0 266.7,233.0 267.7,233.6"/><path d="M66.3,332.3 L68.8,332.5 L71.3,333.2 L73.9,334.3 L76.4,335.7 L78.9,337.2 L81.4,338.8 L83.9,340.2 L86.5,341.3 L89.0,342.0 L91.5,342.2 L92.8,342.2 L94.1,342.2 L95.4,342.2 L96.7,342.2 L98.0,342.2 L99.3,342.2 L100.6,342.2 L101.9,342.2 L103.2,342.2 L104.5,342.2 L107.0,341.9 L109.5,341.2 L112.0,340.0 L114.5,338.5 L117.0,336.9 L119.6,335.3 L122.1,333.8 L124.6,332.6 L127.1,331.9 L129.6,331.6 L130.8,331.6 L132.1,331.6 L133.3,331.6 L134.6,331.6 L135.8,331.6 L137.0,331.6 L138.3,331.6 L139.5,331.6 L140.8,331.6 L142.0,331.6 L144.1,331.6 L146.2,331.6 L148.3,331.6 L150.4,331.6 L152.5,331.6 L154.6,331.6 L156.7,331.6 L158.8,331.6 L160.9,331.6 L163.0,331.6 L165.6,331.8 L168.1,332.5 L170.7,333.6 L173.2,335.0 L175.8,336.6 L178.3,338.1 L180.8,339.5 L183.4,340.6 L185.9,341.3 L188.5,341.5 L190.6,341.5 L192.7,341.6 L194.8,341.6 L196.9,341.7 L199.0,341.8 L201.1,342.0 L203.2,342.1 L205.3,342.1 L207.4,342.2 L209.5,342.2 L211.2,342.2 L212.9,342.1 L214.7,342.1 L216.4,342.0 L218.1,341.9 L219.8,341.7 L221.5,341.6 L223.3,341.6 L225.0,341.5 L226.7,341.5 L229.3,341.3 L231.9,340.8 L234.6,339.9 L237.2,338.8 L239.8,337.6 L242.4,336.4 L245.0,335.3 L247.7,334.4 L250.3,333.9 L252.9,333.7 L254.4,333.7 L255.9,333.6 L257.3,333.4 L258.8,333.2 L260.3,333.0 L261.8,332.8 L263.3,332.6 L264.7,332.4 L266.2,332.3 L267.7,332.3"/><path d="M66.3,344.4 L68.8,344.5 L71.3,344.9 L73.9,345.5 L76.4,346.2 L78.9,346.9 L81.4,347.7 L83.9,348.4 L86.5,349.0 L89.0,349.4 L91.5,349.5 L92.8,349.5 L94.1,349.5 L95.4,349.5 L96.7,349.5 L98.0,349.5 L99.3,349.5 L100.6,349.5 L101.9,349.5 L103.2,349.5 L104.5,349.5 L107.0,349.4 L109.5,349.1 L112.0,348.5 L114.5,347.9 L117.0,347.2 L119.6,346.4 L122.1,345.8 L124.6,345.2 L127.1,344.9 L129.6,344.8 L130.8,344.8 L132.1,344.8 L133.3,344.7 L134.6,344.7 L135.8,344.6 L137.0,344.5 L138.3,344.5 L139.5,344.4 L140.8,344.4 L142.0,344.4 L144.1,344.4 L146.2,344.5 L148.3,344.5 L150.4,344.6 L152.5,344.7 L154.6,344.8 L156.7,344.9 L158.8,344.9 L160.9,345.0 L163.0,345.0 L165.6,345.1 L168.1,345.2 L170.7,345.5 L173.2,345.8 L175.8,346.1 L178.3,346.4 L180.8,346.7 L183.4,347.0 L185.9,347.1 L188.5,347.2 L190.6,347.3 L192.7,347.6 L194.8,348.1 L196.9,348.7 L199.0,349.3 L201.1,350.0 L203.2,350.6 L205.3,351.1 L207.4,351.4 L209.5,351.5 L211.2,351.4 L212.9,351.3 L214.7,351.1 L216.4,350.8 L218.1,350.4 L219.8,350.1 L221.5,349.8 L223.3,349.6 L225.0,349.5 L226.7,349.4 L229.3,349.3 L231.9,348.9 L234.6,348.4 L237.2,347.7 L239.8,346.9 L242.4,346.1 L245.0,345.4 L247.7,344.9 L250.3,344.5 L252.9,344.4 L254.4,344.4 L255.9,344.3 L257.3,344.1 L258.8,343.9 L260.3,343.7 L261.8,343.5 L263.3,343.3 L264.7,343.1 L266.2,343.0 L267.7,343.0"/><path d="M66.3,352.9 L68.8,352.9 L71.3,352.8 L73.9,352.6 L76.4,352.4 L78.9,352.2 L81.4,352.0 L83.9,351.8 L86.5,351.6 L89.0,351.5 L91.5,351.5 L92.8,351.5 L94.1,351.5 L95.4,351.5 L96.7,351.5 L98.0,351.5 L99.3,351.5 L100.6,351.5 L101.9,351.5 L103.2,351.5 L104.5,351.5 L107.0,351.6 L109.5,351.8 L112.0,352.1 L114.5,352.5 L117.0,352.9 L119.6,353.4 L122.1,353.8 L124.6,354.1 L127.1,354.3 L129.6,354.4 L130.8,354.4 L132.1,354.4 L133.3,354.3 L134.6,354.3 L135.8,354.2 L137.0,354.1 L138.3,354.1 L139.5,354.0 L140.8,354.0 L142.0,354.0 L144.1,353.9 L146.2,353.7 L148.3,353.3 L150.4,352.9 L152.5,352.4 L154.6,351.9 L156.7,351.5 L158.8,351.1 L160.9,350.9 L163.0,350.8 L165.6,350.9 L168.1,351.3 L170.7,351.8 L173.2,352.5 L175.8,353.3 L178.3,354.1 L180.8,354.8 L183.4,355.3 L185.9,355.7 L188.5,355.8 L190.6,355.9 L192.7,356.1 L194.8,356.4 L196.9,356.8 L199.0,357.2 L201.1,357.6 L203.2,358.0 L205.3,358.3 L207.4,358.5 L209.5,358.6 L211.2,358.6 L212.9,358.5 L214.7,358.3 L216.4,358.1 L218.1,357.9 L219.8,357.7 L221.5,357.5 L223.3,357.3 L225.0,357.2 L226.7,357.2 L229.3,357.1 L231.9,356.7 L234.6,356.2 L237.2,355.5 L239.8,354.7 L242.4,353.9 L245.0,353.2 L247.7,352.7 L250.3,352.3 L252.9,352.2 L254.4,352.2 L255.9,352.3 L257.3,352.5 L258.8,352.7 L260.3,352.9 L261.8,353.1 L263.3,353.3 L264.7,353.5 L266.2,353.6 L267.7,353.6"/><path d="M66.3,353.6 L68.8,353.8 L71.3,354.4 L73.9,355.2 L76.4,356.3 L78.9,357.6 L81.4,358.8 L83.9,359.9 L86.5,360.7 L89.0,361.3 L91.5,361.5 L92.8,361.5 L94.1,361.5 L95.4,361.5 L96.7,361.5 L98.0,361.5 L99.3,361.5 L100.6,361.5 L101.9,361.5 L103.2,361.5 L104.5,361.5 L107.0,361.6 L109.5,361.8 L112.0,362.1 L114.5,362.5 L117.0,362.9 L119.6,363.3 L122.1,363.7 L124.6,364.0 L127.1,364.2 L129.6,364.3 L130.8,364.3 L132.1,364.3 L133.3,364.3 L134.6,364.3 L135.8,364.3 L137.0,364.3 L138.3,364.3 L139.5,364.3 L140.8,364.3 L142.0,364.3 L144.1,364.1 L146.2,363.5 L148.3,362.6 L150.4,361.4 L152.5,360.2 L154.6,358.9 L156.7,357.7 L158.8,356.8 L160.9,356.2 L163.0,356.0 L165.6,356.1 L168.1,356.4 L170.7,356.8 L173.2,357.4 L175.8,358.0 L178.3,358.6 L180.8,359.2 L183.4,359.6 L185.9,359.9 L188.5,360.0 L190.6,360.1 L192.7,360.3 L194.8,360.6 L196.9,361.0 L199.0,361.4 L201.1,361.9 L203.2,362.3 L205.3,362.6 L207.4,362.8 L209.5,362.9 L211.2,362.9 L212.9,362.8 L214.7,362.7 L216.4,362.6 L218.1,362.4 L219.8,362.3 L221.5,362.2 L223.3,362.1 L225.0,362.0 L226.7,362.0 L229.3,362.1 L231.9,362.4 L234.6,362.8 L237.2,363.3 L239.8,363.8 L242.4,364.4 L245.0,364.9 L247.7,365.3 L250.3,365.6 L252.9,365.7 L254.4,365.6 L255.9,365.5 L257.3,365.3 L258.8,365.0 L260.3,364.7 L261.8,364.3 L263.3,364.0 L264.7,363.8 L266.2,363.7 L267.7,363.6"/><path d="M66.3,360.0 L68.8,360.1 L71.3,360.4 L73.9,360.9 L76.4,361.5 L78.9,362.1 L81.4,362.8 L83.9,363.4 L86.5,363.9 L89.0,364.2 L91.5,364.3 L92.8,364.3 L94.1,364.3 L95.4,364.3 L96.7,364.3 L98.0,364.3 L99.3,364.3 L100.6,364.3 L101.9,364.3 L103.2,364.3 L104.5,364.3 L107.0,364.4 L109.5,364.8 L112.0,365.5 L114.5,366.3 L117.0,367.1 L119.6,368.0 L122.1,368.8 L124.6,369.5 L127.1,369.9 L129.6,370.0 L130.8,370.0 L132.1,369.9 L133.3,369.9 L134.6,369.8 L135.8,369.7 L137.0,369.5 L138.3,369.4 L139.5,369.4 L140.8,369.3 L142.0,369.3 L144.1,369.1 L146.2,368.7 L148.3,368.0 L150.4,367.1 L152.5,366.1 L154.6,365.1 L156.7,364.2 L158.8,363.5 L160.9,363.1 L163.0,362.9 L165.6,363.1 L168.1,363.5 L170.7,364.2 L173.2,365.1 L175.8,366.1 L178.3,367.1 L180.8,368.0 L183.4,368.7 L185.9,369.1 L188.5,369.3 L190.6,369.2 L192.7,368.8 L194.8,368.3 L196.9,367.6 L199.0,366.8 L201.1,366.0 L203.2,365.3 L205.3,364.8 L207.4,364.4 L209.5,364.3 L211.2,364.5 L212.9,364.9 L214.7,365.6 L216.4,366.5 L218.1,367.5 L219.8,368.5 L221.5,369.4 L223.3,370.1 L225.0,370.5 L226.7,370.7 L229.3,370.7 L231.9,370.7 L234.6,370.7 L237.2,370.7 L239.8,370.7 L242.4,370.7 L245.0,370.7 L247.7,370.7 L250.3,370.7 L252.9,370.7 L254.4,370.7 L255.9,370.6 L257.3,370.4 L258.8,370.2 L260.3,370.0 L261.8,369.8 L263.3,369.6 L264.7,369.4 L266.2,369.3 L267.7,369.3"/><path d="M66.3,370.7 L68.8,370.8 L71.3,371.3 L73.9,371.9 L76.4,372.7 L78.9,373.6 L81.4,374.5 L83.9,375.3 L86.5,375.9 L89.0,376.4 L91.5,376.5 L92.8,376.5 L94.1,376.5 L95.4,376.5 L96.7,376.5 L98.0,376.5 L99.3,376.5 L100.6,376.5 L101.9,376.5 L103.2,376.5 L104.5,376.5 L107.0,376.4 L109.5,376.2 L112.0,375.8 L114.5,375.3 L117.0,374.8 L119.6,374.2 L122.1,373.7 L124.6,373.3 L127.1,373.1 L129.6,373.0 L130.8,373.0 L132.1,373.0 L133.3,373.0 L134.6,373.0 L135.8,373.0 L137.0,373.0 L138.3,373.0 L139.5,373.0 L140.8,373.0 L142.0,373.0 L144.1,372.9 L146.2,372.5 L148.3,371.9 L150.4,371.2 L152.5,370.4 L154.6,369.7 L156.7,369.0 L158.8,368.4 L160.9,368.0 L163.0,367.9 L165.6,368.1 L168.1,368.7 L170.7,369.7 L173.2,370.8 L175.8,372.1 L178.3,373.5 L180.8,374.6 L183.4,375.6 L185.9,376.2 L188.5,376.4 L190.6,376.4 L192.7,376.3 L194.8,376.1 L196.9,375.9 L199.0,375.7 L201.1,375.5 L203.2,375.3 L205.3,375.1 L207.4,375.0 L209.5,375.0 L211.2,375.0 L212.9,375.0 L214.7,375.0 L216.4,375.0 L218.1,375.0 L219.8,375.0 L221.5,375.0 L223.3,375.0 L225.0,375.0 L226.7,375.0 L229.3,375.2 L231.9,375.7 L234.6,376.4 L237.2,377.4 L239.8,378.5 L242.4,379.6 L245.0,380.6 L247.7,381.3 L250.3,381.8 L252.9,382.0 L254.4,381.8 L255.9,381.0 L257.3,379.9 L258.8,378.5 L260.3,377.0 L261.8,375.5 L263.3,374.1 L264.7,373.0 L266.2,372.2 L267.7,372.0"/><path d="M66.3,375.0 L68.8,375.1 L71.3,375.3 L73.9,375.6 L76.4,376.0 L78.9,376.4 L81.4,376.9 L83.9,377.3 L86.5,377.6 L89.0,377.8 L91.5,377.9 L92.8,377.9 L94.1,377.9 L95.4,377.9 L96.7,377.9 L98.0,377.9 L99.3,377.9 L100.6,377.9 L101.9,377.9 L103.2,377.9 L104.5,377.9 L107.0,378.1 L109.5,378.5 L112.0,379.2 L114.5,380.1 L117.0,381.1 L119.6,382.1 L122.1,383.0 L124.6,383.7 L127.1,384.1 L129.6,384.3 L130.8,384.3 L132.1,384.3 L133.3,384.2 L134.6,384.2 L135.8,384.2 L137.0,384.1 L138.3,384.1 L139.5,384.0 L140.8,384.0 L142.0,384.0 L144.1,383.8 L146.2,383.1 L148.3,382.1 L150.4,380.9 L152.5,379.5 L154.6,378.1 L156.7,376.9 L158.8,375.9 L160.9,375.2 L163.0,375.0 L165.6,375.1 L168.1,375.5 L170.7,376.0 L173.2,376.7 L175.8,377.5 L178.3,378.3 L180.8,379.0 L183.4,379.5 L185.9,379.9 L188.5,380.0 L190.6,380.0 L192.7,379.9 L194.8,379.7 L196.9,379.5 L199.0,379.3 L201.1,379.1 L203.2,378.9 L205.3,378.7 L207.4,378.6 L209.5,378.6 L211.2,378.6 L212.9,378.7 L214.7,378.9 L216.4,379.1 L218.1,379.3 L219.8,379.5 L221.5,379.7 L223.3,379.9 L225.0,380.0 L226.7,380.0 L229.3,379.9 L231.9,379.6 L234.6,379.2 L237.2,378.6 L239.8,378.0 L242.4,377.4 L245.0,376.8 L247.7,376.4 L250.3,376.1 L252.9,376.0 L254.4,376.2 L255.9,376.8 L257.3,377.6 L258.8,378.8 L260.3,380.0 L261.8,381.2 L263.3,382.4 L264.7,383.2 L266.2,383.8 L267.7,384.0"/><path d="M66.3,382.1 L68.8,382.2 L71.3,382.3 L73.9,382.6 L76.4,382.9 L78.9,383.2 L81.4,383.5 L83.9,383.8 L86.5,384.1 L89.0,384.2 L91.5,384.3 L92.8,384.3 L94.1,384.3 L95.4,384.3 L96.7,384.3 L98.0,384.3 L99.3,384.3 L100.6,384.3 L101.9,384.3 L103.2,384.3 L104.5,384.3 L107.0,384.3 L109.5,384.4 L112.0,384.5 L114.5,384.7 L117.0,384.9 L119.6,385.1 L122.1,385.3 L124.6,385.4 L127.1,385.5 L129.6,385.5 L130.8,385.5 L132.1,385.5 L133.3,385.5 L134.6,385.5 L135.8,385.5 L137.0,385.5 L138.3,385.5 L139.5,385.5 L140.8,385.5 L142.0,385.5 L144.1,385.4 L146.2,385.1 L148.3,384.6 L150.4,383.9 L152.5,383.2 L154.6,382.6 L156.7,381.9 L158.8,381.4 L160.9,381.1 L163.0,381.0 L165.6,381.1 L168.1,381.3 L170.7,381.7 L173.2,382.1 L175.8,382.6 L178.3,383.2 L180.8,383.6 L183.4,384.0 L185.9,384.2 L188.5,384.3 L190.6,384.3 L192.7,384.4 L194.8,384.5 L196.9,384.7 L199.0,384.9 L201.1,385.1 L203.2,385.3 L205.3,385.4 L207.4,385.5 L209.5,385.5 L211.2,385.5 L212.9,385.5 L214.7,385.5 L216.4,385.5 L218.1,385.5 L219.8,385.5 L221.5,385.5 L223.3,385.5 L225.0,385.5 L226.7,385.5 L229.3,385.5 L231.9,385.5 L234.6,385.4 L237.2,385.3 L239.8,385.2 L242.4,385.2 L245.0,385.1 L247.7,385.0 L250.3,385.0 L252.9,385.0 L254.4,384.8 L255.9,384.3 L257.3,383.6 L258.8,382.6 L260.3,381.5 L261.8,380.4 L263.3,379.4 L264.7,378.7 L266.2,378.2 L267.7,378.0"/></g>
</g>
<rect x="66.2" y="224.2" width="201.5" height="161.7" fill="none" stroke="#3a3a3a" stroke-width="1.4"/>
<line x1="66.2" y1="378.1" x2="69.3" y2="378.1" stroke="#3a3a3a" stroke-width="1"/>
<line x1="66.2" y1="368.9" x2="68.2" y2="368.9" stroke="#3a3a3a" stroke-width="0.9"/>
<line x1="66.2" y1="359.8" x2="69.3" y2="359.8" stroke="#3a3a3a" stroke-width="1"/>
<line x1="66.2" y1="350.6" x2="68.2" y2="350.6" stroke="#3a3a3a" stroke-width="0.9"/>
<line x1="66.2" y1="341.5" x2="69.3" y2="341.5" stroke="#3a3a3a" stroke-width="1"/>
<line x1="66.2" y1="332.3" x2="68.2" y2="332.3" stroke="#3a3a3a" stroke-width="0.9"/>
<line x1="66.2" y1="323.2" x2="69.3" y2="323.2" stroke="#3a3a3a" stroke-width="1"/>
<line x1="66.2" y1="314.0" x2="68.2" y2="314.0" stroke="#3a3a3a" stroke-width="0.9"/>
<line x1="66.2" y1="304.9" x2="69.3" y2="304.9" stroke="#3a3a3a" stroke-width="1"/>
<line x1="66.2" y1="295.8" x2="68.2" y2="295.8" stroke="#3a3a3a" stroke-width="0.9"/>
<line x1="66.2" y1="286.6" x2="69.3" y2="286.6" stroke="#3a3a3a" stroke-width="1"/>
<line x1="66.2" y1="277.4" x2="68.2" y2="277.4" stroke="#3a3a3a" stroke-width="0.9"/>
<line x1="66.2" y1="268.3" x2="69.3" y2="268.3" stroke="#3a3a3a" stroke-width="1"/>
<line x1="66.2" y1="259.1" x2="68.2" y2="259.1" stroke="#3a3a3a" stroke-width="0.9"/>
<line x1="66.2" y1="250.0" x2="69.3" y2="250.0" stroke="#3a3a3a" stroke-width="1"/>
<line x1="66.2" y1="240.8" x2="68.2" y2="240.8" stroke="#3a3a3a" stroke-width="0.9"/>
<line x1="66.2" y1="231.7" x2="69.3" y2="231.7" stroke="#3a3a3a" stroke-width="1"/>
<line x1="99" y1="280" x2="99" y2="310" stroke="#ff3030" stroke-width="1.4"/><path d="M97.2,281.5 L100.8,281.5 L99,272 Z" fill="#ff2020"/>
<line x1="173.4" y1="276" x2="173.4" y2="306" stroke="#108878" stroke-width="1.4"/><path d="M171.6,305 L175.2,305 L173.4,314.4 Z" fill="#0a7a6a"/>
<g font-family="Liberation Serif" font-weight="bold">
<text x="62.4" y="381.5" font-size="10.2" text-anchor="end" >−2.0</text>
<text x="62.4" y="363.2" font-size="10.2" text-anchor="end" >−1.5</text>
<text x="62.4" y="344.9" font-size="10.2" text-anchor="end" >−1.0</text>
<text x="62.4" y="326.6" font-size="10.2" text-anchor="end" >−0.5</text>
<text x="62.4" y="308.3" font-size="10.2" text-anchor="end" >0.0</text>
<text x="62.4" y="290.0" font-size="10.2" text-anchor="end" >0.5</text>
<text x="62.4" y="271.7" font-size="10.2" text-anchor="end" >1.0</text>
<text x="62.4" y="253.4" font-size="10.2" text-anchor="end" >1.5</text>
<text x="62.4" y="235.1" font-size="10.2" text-anchor="end" >2.0</text>
<text x="0.0" y="0.0" font-size="13.6" text-anchor="middle" transform="translate(39.0,304.9) rotate(-90)" textLength="70.6" lengthAdjust="spacingAndGlyphs">Energy (eV)</text>
<text x="67.0" y="399.6" font-size="10" text-anchor="middle" >Γ</text>
<text x="91.8" y="399.6" font-size="10" text-anchor="middle" >Z</text>
<text x="104.6" y="399.6" font-size="10" text-anchor="middle" >D</text>
<text x="130.9" y="399.6" font-size="10" text-anchor="middle" >B</text>
<text x="140.8" y="400.4" font-size="10" text-anchor="middle" >Γ</text>
<text x="163.2" y="399.6" font-size="10" text-anchor="middle" >A</text>
<text x="189.5" y="399.6" font-size="10" text-anchor="middle" >E</text>
<text x="209.4" y="399.6" font-size="10" text-anchor="middle" >Z</text>
<text x="230.2" y="399.6" font-size="10" text-anchor="middle" >C<tspan fill="#9a9a9a">_</tspan>2</text>
<text x="253.5" y="399.6" font-size="10" text-anchor="middle" >Y<tspan fill="#9a9a9a">_</tspan>2</text>
<text x="266.0" y="399.6" font-size="10" text-anchor="middle" >Γ</text>
</g>
<line x1="440.9" y1="222.2" x2="440.9" y2="385.4" stroke="#555" stroke-width="1.2" stroke-dasharray="3 2.5"/>
<g clip-path="url(#cd)" fill="none" stroke-width="1" stroke-linejoin="round">
<path stroke="#bc5cf2" d="M339.5,305.0 L341.6,308.0 L342.3,342.0 L343.7,309.3 L346.6,313.5 L349.4,323.5 L352.3,315.0 L355.1,325.0 L357.2,313.5 L360.8,316.4 L363.7,323.5 L365.1,316.4 L367.2,334.9 L368.6,320.6 L370.8,309.3 L373.6,316.4 L376.5,323.5 L378.6,349.2 L380.0,316.4 L383.6,329.2 L386.5,340.6 L388.6,317.8 L392.2,337.8 L395.0,319.2 L397.9,315.0 L400.0,320.0 L402.0,330.0 L404.0,318.0 L406.0,338.0 L408.0,322.0 L410.0,316.0 L412.0,325.0 L414.0,340.0 L416.0,322.0 L418.0,318.0 L420.0,326.0 L422.0,340.0 L423.5,318.0 L424.5,310.0 L425.6,303.7 L460.0,303.7 L465.0,305.5 L468.0,308.0 L471.0,306.5 L475.0,308.0 L478.0,312.0 L481.0,309.0 L484.0,313.0 L486.0,318.0 L488.0,312.0 L490.0,316.0 L492.0,321.0 L494.0,309.0 L496.0,305.0 L499.0,309.0 L502.0,316.0 L505.0,312.0 L508.0,318.0 L511.0,313.0 L514.0,320.0 L517.0,314.0 L520.0,318.0 L523.0,312.0 L526.0,316.0 L529.0,311.0 L533.0,310.0 L537.0,309.5 L543.5,309.0"/>
<path stroke="#2ea447" d="M339.5,306.0 L342.0,309.3 L346.0,307.0 L350.0,308.5 L355.0,307.0 L360.0,308.0 L365.0,309.0 L370.0,307.5 L375.0,309.0 L377.5,311.0 L379.3,316.4 L381.0,310.0 L385.0,308.0 L390.0,310.0 L395.0,308.0 L400.0,309.0 L405.0,308.0 L410.0,309.5 L415.0,308.0 L420.0,307.5 L424.0,306.5 L425.5,303.7 L460.3,303.7 L463.0,306.0 L465.9,308.5 L468.2,319.8 L470.0,315.0 L471.6,316.4 L473.9,321.0 L475.5,325.0 L477.3,330.0 L479.5,317.6 L481.8,319.8 L484.0,326.6 L486.3,322.0 L488.5,340.0 L490.1,335.6 L491.9,362.7 L493.0,384.8 L494.2,362.7 L495.3,308.5 L497.6,305.2 L499.8,310.8 L501.5,325.0 L503.2,347.0 L505.5,322.0 L508.9,319.8 L511.1,331.1 L513.4,316.4 L515.6,331.1 L517.9,310.8 L520.2,322.0 L523.5,328.9 L525.3,345.8 L528.1,319.8 L531.4,315.3 L534.8,310.8 L539.3,308.5 L543.5,306.3"/>
<path stroke="#bc5cf2" d="M339.5,300.0 L340.9,297.0 L343.0,282.8 L345.1,288.5 L346.6,292.8 L349.4,287.8 L351.5,291.3 L353.7,285.6 L355.8,284.2 L358.0,287.8 L359.4,285.6 L361.5,277.8 L363.0,285.6 L364.4,297.0 L365.8,280.0 L367.2,262.8 L368.6,292.8 L370.5,272.8 L372.2,288.5 L374.3,280.6 L375.8,292.8 L377.9,283.0 L379.3,280.6 L381.5,292.8 L383.6,285.6 L385.0,278.5 L387.2,291.3 L389.3,279.9 L391.4,285.6 L393.6,280.6 L395.7,285.6 L397.1,272.8 L399.0,285.0 L400.5,290.0 L402.1,263.8 L403.1,284.8 L404.2,297.3 L406.3,291.0 L408.0,294.0 L410.5,288.9 L412.6,295.2 L414.5,290.0 L416.5,294.0 L418.5,290.0 L420.5,294.0 L422.5,292.0 L425.1,299.4 L426.2,303.5 L428.0,303.5 L429.3,291.0 L431.4,284.8 L433.6,292.0 L434.5,222.0 L434.9,222.0 L435.4,288.0 L436.6,278.5 L437.6,290.0 L438.7,296.0 L439.7,303.5 L470.0,303.5 L470.6,299.0 L472.0,295.0 L475.0,294.9 L478.0,290.0 L480.0,293.0 L483.0,289.0 L486.0,291.0 L488.0,288.0 L490.0,291.0 L492.0,287.0 L494.0,295.0 L497.0,303.0 L500.0,302.0 L505.0,296.0 L508.0,293.0 L510.6,286.3 L512.0,293.0 L515.0,297.0 L520.0,300.0 L525.0,300.5 L528.0,299.0 L532.0,298.0 L536.0,298.0 L540.0,298.5 L543.5,298.0"/>
<path stroke="#2ea447" d="M339.5,303.0 L340.9,301.3 L343.0,293.5 L346.6,297.0 L349.4,300.0 L352.0,296.5 L356.0,297.0 L360.8,294.2 L364.4,300.6 L366.5,290.0 L368.5,296.0 L370.0,295.6 L372.0,293.0 L375.0,297.0 L378.0,294.0 L381.0,297.0 L385.0,291.0 L389.0,288.5 L393.0,287.0 L397.9,282.8 L402.0,283.0 L405.0,287.0 L408.0,283.0 L410.5,286.0 L412.6,293.1 L414.6,278.5 L416.7,276.4 L417.8,263.8 L418.8,249.2 L419.9,255.5 L420.9,235.6 L422.0,257.6 L422.6,270.0 L423.4,265.9 L424.7,274.3 L425.5,291.0 L426.2,302.5 L428.2,302.5 L429.3,274.3 L430.3,256.5 L431.4,259.7 L432.3,276.4 L433.0,222.0 L433.4,222.0 L433.9,284.8 L435.6,270.1 L436.6,261.7 L437.7,276.4 L438.7,291.0 L439.7,302.5 L470.0,303.5 L470.5,296.0 L472.0,270.0 L473.5,280.0 L475.5,288.2 L477.0,280.0 L479.1,271.0 L481.0,285.0 L482.5,288.0 L484.0,280.0 L486.4,273.0 L488.0,285.0 L489.5,285.5 L491.0,275.0 L492.5,269.0 L494.0,282.0 L495.5,295.0 L497.3,303.5 L500.0,303.0 L505.0,301.5 L510.0,301.0 L515.0,300.5 L520.0,301.5 L525.0,301.0 L530.0,300.0 L535.0,300.0 L543.5,299.5"/>
<path stroke="#ff3c3c" stroke-width="1.1" d="M339.5,303.2 L360.0,303.0 L380.0,303.3 L400.0,303.1 L425.6,303.4 L470.0,303.3 L480.0,302.8 L497.0,303.5 L505.0,301.5 L515.0,301.0 L525.0,301.0 L535.0,302.0 L543.5,302.0"/>
<path stroke="#ff3c3c" stroke-width="1" d="M339.5,304.3 L360.0,304.5 L380.0,304.1 L400.0,304.4 L425.6,304.1 L470.0,304.3 L490.0,304.8 L497.0,304.0 L505.0,305.5 L515.0,305.5 L525.0,306.0 L535.0,306.0 L543.5,305.5"/>
<line x1="426" y1="303.7" x2="470" y2="303.7" stroke="#bc5cf2" stroke-width="1.3"/>
</g>
<rect x="339.3" y="222.2" width="204.2" height="163.2" fill="none" stroke="#000" stroke-width="1.5"/>
<line x1="339.3" y1="222.1" x2="342.6" y2="222.1" stroke="#000" stroke-width="1"/>
<line x1="339.3" y1="262.9" x2="342.6" y2="262.9" stroke="#000" stroke-width="1"/>
<line x1="339.3" y1="303.7" x2="342.6" y2="303.7" stroke="#000" stroke-width="1"/>
<line x1="339.3" y1="344.5" x2="342.6" y2="344.5" stroke="#000" stroke-width="1"/>
<line x1="339.3" y1="385.3" x2="342.6" y2="385.3" stroke="#000" stroke-width="1"/>
<line x1="339.3" y1="242.5" x2="341.3" y2="242.5" stroke="#000" stroke-width="0.9"/>
<line x1="339.3" y1="283.3" x2="341.3" y2="283.3" stroke="#000" stroke-width="0.9"/>
<line x1="339.3" y1="324.1" x2="341.3" y2="324.1" stroke="#000" stroke-width="0.9"/>
<line x1="339.3" y1="364.9" x2="341.3" y2="364.9" stroke="#000" stroke-width="0.9"/>
<line x1="339.3" y1="385.4" x2="339.3" y2="382.2" stroke="#000" stroke-width="1"/>
<line x1="364.7" y1="385.4" x2="364.7" y2="382.2" stroke="#000" stroke-width="1"/>
<line x1="390.1" y1="385.4" x2="390.1" y2="382.2" stroke="#000" stroke-width="1"/>
<line x1="415.5" y1="385.4" x2="415.5" y2="382.2" stroke="#000" stroke-width="1"/>
<line x1="440.9" y1="385.4" x2="440.9" y2="382.2" stroke="#000" stroke-width="1"/>
<line x1="466.3" y1="385.4" x2="466.3" y2="382.2" stroke="#000" stroke-width="1"/>
<line x1="491.7" y1="385.4" x2="491.7" y2="382.2" stroke="#000" stroke-width="1"/>
<line x1="517.1" y1="385.4" x2="517.1" y2="382.2" stroke="#000" stroke-width="1"/>
<line x1="542.5" y1="385.4" x2="542.5" y2="382.2" stroke="#000" stroke-width="1"/>
<line x1="352.0" y1="385.4" x2="352.0" y2="383.4" stroke="#000" stroke-width="0.9"/>
<line x1="377.4" y1="385.4" x2="377.4" y2="383.4" stroke="#000" stroke-width="0.9"/>
<line x1="402.8" y1="385.4" x2="402.8" y2="383.4" stroke="#000" stroke-width="0.9"/>
<line x1="428.2" y1="385.4" x2="428.2" y2="383.4" stroke="#000" stroke-width="0.9"/>
<line x1="453.6" y1="385.4" x2="453.6" y2="383.4" stroke="#000" stroke-width="0.9"/>
<line x1="479.0" y1="385.4" x2="479.0" y2="383.4" stroke="#000" stroke-width="0.9"/>
<line x1="504.4" y1="385.4" x2="504.4" y2="383.4" stroke="#000" stroke-width="0.9"/>
<line x1="529.8" y1="385.4" x2="529.8" y2="383.4" stroke="#000" stroke-width="0.9"/>
<line x1="490.4" y1="231.4" x2="510.7" y2="231.4" stroke="#2ea447" stroke-width="1.2"/>
<line x1="490.4" y1="243.1" x2="510.7" y2="243.1" stroke="#ff3c3c" stroke-width="1.2"/>
<line x1="490.4" y1="254.6" x2="510.7" y2="254.6" stroke="#bc5cf2" stroke-width="1.2"/>
<g font-family="Liberation Serif" font-weight="bold">
<text x="522.6" y="234.7" font-size="9" text-anchor="middle" >Cr-d</text>
<text x="522.6" y="246.4" font-size="9" text-anchor="middle" >P-p</text>
<text x="522.2" y="257.9" font-size="9" text-anchor="middle" >S-s</text>
<text x="334.6" y="225.6" font-size="10.2" text-anchor="end" >10</text>
<text x="334.6" y="266.4" font-size="10.2" text-anchor="end" >5</text>
<text x="334.6" y="307.2" font-size="10.2" text-anchor="end" >0</text>
<text x="334.6" y="348.0" font-size="10.2" text-anchor="end" >−5</text>
<text x="334.6" y="388.8" font-size="10.2" text-anchor="end" >−10</text>
<text x="336.8" y="397.6" font-size="10.5" text-anchor="middle" >−4</text>
<text x="362.2" y="397.6" font-size="10.5" text-anchor="middle" >−3</text>
<text x="387.6" y="397.6" font-size="10.5" text-anchor="middle" >−2</text>
<text x="413.0" y="397.6" font-size="10.5" text-anchor="middle" >−1</text>
<text x="440.9" y="397.6" font-size="10.5" text-anchor="middle" >0</text>
<text x="466.3" y="397.6" font-size="10.5" text-anchor="middle" >1</text>
<text x="491.7" y="397.6" font-size="10.5" text-anchor="middle" >2</text>
<text x="517.1" y="397.6" font-size="10.5" text-anchor="middle" >3</text>
<text x="542.5" y="397.6" font-size="10.5" text-anchor="middle" >4</text>
<text x="440.2" y="415.6" font-size="10.8" text-anchor="middle" textLength="53.2" lengthAdjust="spacingAndGlyphs">Energy(eV)</text>
<text x="0.0" y="0.0" font-size="10.5" text-anchor="middle" transform="translate(315.6,303.5) rotate(-90)" textLength="164" lengthAdjust="spacingAndGlyphs">Density of States (states/eV/spin/cell)</text>
</g>
<g font-family="Liberation Serif" font-weight="bold" font-size="19">
<text x="13.4" y="20.8" font-size="19" text-anchor="start" >(a)</text>
<text x="286.0" y="21.0" font-size="19" text-anchor="start" >(b)</text>
<text x="14.6" y="222.6" font-size="19" text-anchor="start" >(c)</text>
<text x="278.2" y="219.4" font-size="19" text-anchor="start" >(d)</text>
</g>
</svg></body></html>
